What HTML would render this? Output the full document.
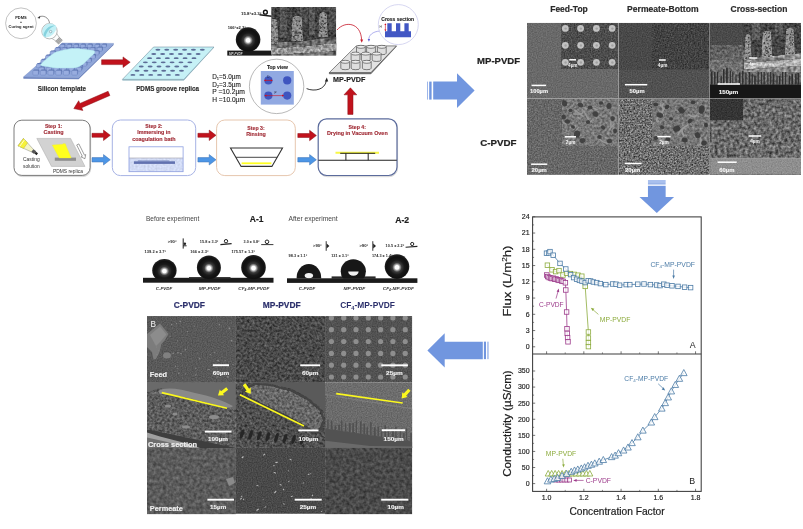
<!DOCTYPE html>
<html><head><meta charset="utf-8"><title>Graphical abstract</title>
<style>
html,body{margin:0;padding:0;background:#fff;}
body{width:803px;height:529px;overflow:hidden;font-family:"Liberation Sans",sans-serif;}
svg{display:block;}
svg text{font-family:"Liberation Sans",sans-serif;}
</style></head><body>
<svg width="803" height="529" viewBox="0 0 803 529">
<defs>
  <filter id="soft" filterUnits="userSpaceOnUse" x="-20" y="-20" width="860" height="580" color-interpolation-filters="sRGB">
    <feGaussianBlur stdDeviation="0.6"/>
  </filter>
  <filter id="grainL" x="0" y="0" width="100%" height="100%" color-interpolation-filters="sRGB">
    <feTurbulence type="fractalNoise" baseFrequency="0.5" numOctaves="2" seed="2" result="n"/>
    <feColorMatrix in="n" type="matrix" values="1 0 0 0 0  1 0 0 0 0  1 0 0 0 0  0 0 0 0 1" result="g"/>
    <feComposite in="SourceGraphic" in2="g" operator="arithmetic" k1="0" k2="1" k3="0.15" k4="-0.075" result="b"/>
    <feComposite in="b" in2="SourceGraphic" operator="in"/>
  </filter>
  <filter id="grainF2" x="0" y="0" width="100%" height="100%" color-interpolation-filters="sRGB">
    <feTurbulence type="fractalNoise" baseFrequency="0.8" numOctaves="1" seed="4" result="n"/>
    <feColorMatrix in="n" type="matrix" values="1 0 0 0 0  1 0 0 0 0  1 0 0 0 0  0 0 0 0 1" result="g"/>
    <feComposite in="SourceGraphic" in2="g" operator="arithmetic" k1="0" k2="1" k3="0.22" k4="-0.11" result="b"/>
    <feComposite in="b" in2="SourceGraphic" operator="in"/>
  </filter>
  <filter id="grainF" x="0" y="0" width="100%" height="100%" color-interpolation-filters="sRGB">
    <feTurbulence type="fractalNoise" baseFrequency="0.7" numOctaves="2" seed="3" result="n"/>
    <feColorMatrix in="n" type="matrix" values="1 0 0 0 0  1 0 0 0 0  1 0 0 0 0  0 0 0 0 1" result="g"/>
    <feComposite in="SourceGraphic" in2="g" operator="arithmetic" k1="0" k2="1" k3="0.45" k4="-0.225" result="b"/>
    <feComposite in="b" in2="SourceGraphic" operator="in"/>
  </filter>
  <filter id="grainH" x="0" y="0" width="100%" height="100%" color-interpolation-filters="sRGB">
    <feTurbulence type="fractalNoise" baseFrequency="0.62" numOctaves="2" seed="5" result="n"/>
    <feColorMatrix in="n" type="matrix" values="1 0 0 0 0  1 0 0 0 0  1 0 0 0 0  0 0 0 0 1" result="g"/>
    <feComposite in="SourceGraphic" in2="g" operator="arithmetic" k1="0" k2="1" k3="0.8" k4="-0.4" result="b"/>
    <feComposite in="b" in2="SourceGraphic" operator="in"/>
  </filter>
  <filter id="grainM" x="0" y="0" width="100%" height="100%" color-interpolation-filters="sRGB">
    <feTurbulence type="fractalNoise" baseFrequency="0.4" numOctaves="2" seed="7" result="n"/>
    <feColorMatrix in="n" type="matrix" values="1 0 0 0 0  1 0 0 0 0  1 0 0 0 0  0 0 0 0 1" result="g0"/><feGaussianBlur in="g0" stdDeviation="0.6" result="g"/>
    <feComposite in="SourceGraphic" in2="g" operator="arithmetic" k1="0" k2="1" k3="0.45" k4="-0.225" result="b"/>
    <feComposite in="b" in2="SourceGraphic" operator="in"/>
  </filter>
  <filter id="grainM2" x="0" y="0" width="100%" height="100%" color-interpolation-filters="sRGB">
    <feTurbulence type="fractalNoise" baseFrequency="0.33" numOctaves="2" seed="9" result="n"/>
    <feColorMatrix in="n" type="matrix" values="1 0 0 0 0  1 0 0 0 0  1 0 0 0 0  0 0 0 0 1" result="g0"/><feGaussianBlur in="g0" stdDeviation="0.6" result="g"/>
    <feComposite in="SourceGraphic" in2="g" operator="arithmetic" k1="0" k2="1" k3="0.7" k4="-0.35" result="b"/>
    <feComposite in="b" in2="SourceGraphic" operator="in"/>
  </filter>
  <filter id="grainC" x="0" y="0" width="100%" height="100%" color-interpolation-filters="sRGB">
    <feTurbulence type="fractalNoise" baseFrequency="0.24" numOctaves="2" seed="11" result="n"/>
    <feColorMatrix in="n" type="matrix" values="1 0 0 0 0  1 0 0 0 0  1 0 0 0 0  0 0 0 0 1" result="g0"/><feGaussianBlur in="g0" stdDeviation="0.7" result="g"/>
    <feComposite in="SourceGraphic" in2="g" operator="arithmetic" k1="0" k2="1" k3="0.75" k4="-0.375" result="b"/>
    <feComposite in="b" in2="SourceGraphic" operator="in"/>
  </filter>
  <filter id="grainX" x="0" y="0" width="100%" height="100%" color-interpolation-filters="sRGB">
    <feTurbulence type="fractalNoise" baseFrequency="0.14" numOctaves="2" seed="17" result="n"/>
    <feColorMatrix in="n" type="matrix" values="1 0 0 0 0  1 0 0 0 0  1 0 0 0 0  0 0 0 0 1" result="g0"/><feGaussianBlur in="g0" stdDeviation="0.8" result="g"/>
    <feComposite in="SourceGraphic" in2="g" operator="arithmetic" k1="0" k2="1" k3="0.9" k4="-0.45" result="b"/>
    <feComposite in="b" in2="SourceGraphic" operator="in"/>
  </filter>
    <filter id="blur06" x="-20%" y="-20%" width="140%" height="140%" color-interpolation-filters="sRGB"><feGaussianBlur stdDeviation="0.7"/></filter>
  <filter id="blur1" x="-20%" y="-20%" width="140%" height="140%" color-interpolation-filters="sRGB"><feGaussianBlur stdDeviation="1.1"/></filter>
  <filter id="grainF3" x="0" y="0" width="100%" height="100%" color-interpolation-filters="sRGB">
    <feTurbulence type="fractalNoise" baseFrequency="0.7" numOctaves="2" seed="13" result="n"/>
    <feColorMatrix in="n" type="matrix" values="1 0 0 0 0  1 0 0 0 0  1 0 0 0 0  0 0 0 0 1" result="g"/>
    <feComposite in="SourceGraphic" in2="g" operator="arithmetic" k1="0" k2="1" k3="0.33" k4="-0.165" result="b"/>
    <feComposite in="b" in2="SourceGraphic" operator="in"/>
  </filter>
  <filter id="grainM3" x="0" y="0" width="100%" height="100%" color-interpolation-filters="sRGB">
    <feTurbulence type="fractalNoise" baseFrequency="0.3" numOctaves="2" seed="21" result="n"/>
    <feColorMatrix in="n" type="matrix" values="1 0 0 0 0  1 0 0 0 0  1 0 0 0 0  0 0 0 0 1" result="g0"/><feGaussianBlur in="g0" stdDeviation="0.5" result="g"/>
    <feComposite in="SourceGraphic" in2="g" operator="arithmetic" k1="0" k2="1" k3="0.32" k4="-0.16" result="b"/>
    <feComposite in="b" in2="SourceGraphic" operator="in"/>
  </filter>
  <radialGradient id="drop" cx="50%" cy="53%" r="50%" fx="50%" fy="53%">
    <stop offset="0" stop-color="#ffffff"/>
    <stop offset="0.15" stop-color="#fdfdfd"/>
    <stop offset="0.25" stop-color="#a0a0a0"/>
    <stop offset="0.38" stop-color="#3c3c3c"/>
    <stop offset="0.6" stop-color="#191919"/>
    <stop offset="0.85" stop-color="#101010"/>
    <stop offset="1" stop-color="#1e1e1e"/>
  </radialGradient>
</defs>

<rect x="0" y="0" width="803" height="529" fill="#ffffff"/>
<g filter="url(#soft)">
<circle cx="21" cy="23.3" r="15.4" fill="#fff" stroke="#9a9a9a" stroke-width="0.6"/>
<text x="21.00" y="19.00" font-size="3.8" font-weight="bold" fill="#222" text-anchor="middle" textLength="11.60" lengthAdjust="spacingAndGlyphs" >PDMS</text>
<text x="21.00" y="23.20" font-size="3.4" font-weight="bold" fill="#222" text-anchor="middle" >+</text>
<text x="21.00" y="27.60" font-size="3.6" font-weight="bold" fill="#222" text-anchor="middle" textLength="25.00" lengthAdjust="spacingAndGlyphs" >Curing agent</text>
<path d="M49.5,23.2 C49,17.5 43,14.5 38.6,17.2" fill="none" stroke="#444" stroke-width="0.6"/>
<polygon points="37.30,18.10 40.30,16.00 39.90,18.60" fill="#333" />
<g transform="translate(49.5,31.2) rotate(-45)"><path d="M-3.6,6.2 L-2.4,11.6 L2.4,11.6 L3.6,6.2 Z" fill="#fdfdfd" stroke="#8a8a8a" stroke-width="0.5"/><rect x="-2.7" y="11.4" width="5.4" height="4.2" fill="#b4b4b4" stroke="#7a7a7a" stroke-width="0.4"/><path d="M-2.7,12.8 L2.7,12.8 M-2.7,14.2 L2.7,14.2" stroke="#8a8a8a" stroke-width="0.4"/></g>
<circle cx="49.5" cy="31.2" r="7.7" fill="#fbfefe" stroke="#8a8a8a" stroke-width="0.6"/>
<path d="M43.0,35.2 C41.2,30.5 43.2,25.8 47.6,24.0 C51.5,22.6 55.0,24.4 56.6,27.0 C56.0,31.5 52.5,36.8 46.0,37.6 C44.8,37.2 43.6,36.4 43.0,35.2 Z" fill="#c2f0f6"/>
<path d="M43.4,35.6 C44.5,29 49.5,25 55.6,25.6 C50,27.6 46.6,31.5 45.4,37.2 Z" fill="#86d2de"/>
<circle cx="50.6" cy="31.6" r="1.2" fill="#e8fbfd" stroke="#567" stroke-width="0.4"/>
<polygon points="23.40,77.00 78.60,77.60 113.60,43.40 113.60,45.00 78.60,79.30 23.40,78.70" fill="#6f86bf" />
<polygon points="62.40,43.10 113.60,43.40 78.60,77.60 23.40,77.00" fill="#8fa6d9" stroke="#7088c2" stroke-width="0.4" stroke-linejoin="round" />
<rect x="60.70" y="43.60" width="4.6" height="3.0" rx="0.9" fill="#5f77b3"/>
<rect x="60.00" y="44.50" width="4.6" height="3.0" rx="0.9" fill="#98addf" stroke="#667fbc" stroke-width="0.4"/>
<rect x="67.60" y="43.60" width="4.6" height="3.0" rx="0.9" fill="#5f77b3"/>
<rect x="66.90" y="44.50" width="4.6" height="3.0" rx="0.9" fill="#98addf" stroke="#667fbc" stroke-width="0.4"/>
<rect x="74.40" y="43.60" width="4.6" height="3.0" rx="0.9" fill="#5f77b3"/>
<rect x="73.70" y="44.50" width="4.6" height="3.0" rx="0.9" fill="#98addf" stroke="#667fbc" stroke-width="0.4"/>
<rect x="81.20" y="43.60" width="4.6" height="3.0" rx="0.9" fill="#5f77b3"/>
<rect x="80.50" y="44.50" width="4.6" height="3.0" rx="0.9" fill="#98addf" stroke="#667fbc" stroke-width="0.4"/>
<rect x="88.10" y="43.60" width="4.6" height="3.0" rx="0.9" fill="#5f77b3"/>
<rect x="87.40" y="44.50" width="4.6" height="3.0" rx="0.9" fill="#98addf" stroke="#667fbc" stroke-width="0.4"/>
<rect x="95.60" y="43.60" width="4.6" height="3.0" rx="0.9" fill="#5f77b3"/>
<rect x="94.90" y="44.50" width="4.6" height="3.0" rx="0.9" fill="#98addf" stroke="#667fbc" stroke-width="0.4"/>
<rect x="102.40" y="43.60" width="4.6" height="3.0" rx="0.9" fill="#5f77b3"/>
<rect x="101.70" y="44.50" width="4.6" height="3.0" rx="0.9" fill="#98addf" stroke="#667fbc" stroke-width="0.4"/>
<rect x="55.80" y="46.90" width="4.8" height="3.2" rx="0.9" fill="#5f77b3"/>
<rect x="55.10" y="47.80" width="4.8" height="3.2" rx="0.9" fill="#98addf" stroke="#667fbc" stroke-width="0.4"/>
<rect x="62.70" y="46.90" width="4.8" height="3.2" rx="0.9" fill="#5f77b3"/>
<rect x="62.00" y="47.80" width="4.8" height="3.2" rx="0.9" fill="#98addf" stroke="#667fbc" stroke-width="0.4"/>
<rect x="69.50" y="46.90" width="4.8" height="3.2" rx="0.9" fill="#5f77b3"/>
<rect x="68.80" y="47.80" width="4.8" height="3.2" rx="0.9" fill="#98addf" stroke="#667fbc" stroke-width="0.4"/>
<rect x="76.30" y="46.90" width="4.8" height="3.2" rx="0.9" fill="#5f77b3"/>
<rect x="75.60" y="47.80" width="4.8" height="3.2" rx="0.9" fill="#98addf" stroke="#667fbc" stroke-width="0.4"/>
<rect x="83.20" y="46.90" width="4.8" height="3.2" rx="0.9" fill="#5f77b3"/>
<rect x="82.50" y="47.80" width="4.8" height="3.2" rx="0.9" fill="#98addf" stroke="#667fbc" stroke-width="0.4"/>
<rect x="90.70" y="46.90" width="4.8" height="3.2" rx="0.9" fill="#5f77b3"/>
<rect x="90.00" y="47.80" width="4.8" height="3.2" rx="0.9" fill="#98addf" stroke="#667fbc" stroke-width="0.4"/>
<rect x="97.70" y="46.90" width="4.8" height="3.2" rx="0.9" fill="#5f77b3"/>
<rect x="97.00" y="47.80" width="4.8" height="3.2" rx="0.9" fill="#98addf" stroke="#667fbc" stroke-width="0.4"/>
<rect x="97.90" y="46.60" width="5.0" height="3.8" rx="0.9" fill="#5f77b3"/>
<rect x="97.20" y="47.50" width="5.0" height="3.8" rx="0.9" fill="#98addf" stroke="#667fbc" stroke-width="0.4"/>
<rect x="94.60" y="50.20" width="5.0" height="3.8" rx="0.9" fill="#5f77b3"/>
<rect x="93.90" y="51.10" width="5.0" height="3.8" rx="0.9" fill="#98addf" stroke="#667fbc" stroke-width="0.4"/>
<rect x="91.00" y="54.10" width="5.0" height="3.8" rx="0.9" fill="#5f77b3"/>
<rect x="90.30" y="55.00" width="5.0" height="3.8" rx="0.9" fill="#98addf" stroke="#667fbc" stroke-width="0.4"/>
<rect x="86.80" y="57.80" width="5.0" height="3.8" rx="0.9" fill="#5f77b3"/>
<rect x="86.10" y="58.70" width="5.0" height="3.8" rx="0.9" fill="#98addf" stroke="#667fbc" stroke-width="0.4"/>
<rect x="82.40" y="61.40" width="5.0" height="3.8" rx="0.9" fill="#5f77b3"/>
<rect x="81.70" y="62.30" width="5.0" height="3.8" rx="0.9" fill="#98addf" stroke="#667fbc" stroke-width="0.4"/>
<rect x="78.10" y="65.00" width="5.0" height="3.8" rx="0.9" fill="#5f77b3"/>
<rect x="77.40" y="65.90" width="5.0" height="3.8" rx="0.9" fill="#98addf" stroke="#667fbc" stroke-width="0.4"/>
<rect x="50.80" y="50.40" width="5.0" height="3.8" rx="0.9" fill="#5f77b3"/>
<rect x="50.10" y="51.30" width="5.0" height="3.8" rx="0.9" fill="#98addf" stroke="#667fbc" stroke-width="0.4"/>
<rect x="46.20" y="54.60" width="5.0" height="3.8" rx="0.9" fill="#5f77b3"/>
<rect x="45.50" y="55.50" width="5.0" height="3.8" rx="0.9" fill="#98addf" stroke="#667fbc" stroke-width="0.4"/>
<rect x="41.60" y="58.80" width="5.0" height="3.8" rx="0.9" fill="#5f77b3"/>
<rect x="40.90" y="59.70" width="5.0" height="3.8" rx="0.9" fill="#98addf" stroke="#667fbc" stroke-width="0.4"/>
<rect x="37.10" y="63.00" width="5.0" height="3.8" rx="0.9" fill="#5f77b3"/>
<rect x="36.40" y="63.90" width="5.0" height="3.8" rx="0.9" fill="#98addf" stroke="#667fbc" stroke-width="0.4"/>
<rect x="39.50" y="66.40" width="5.2" height="3.8" rx="0.9" fill="#5f77b3"/>
<rect x="38.80" y="67.30" width="5.2" height="3.8" rx="0.9" fill="#98addf" stroke="#667fbc" stroke-width="0.4"/>
<rect x="47.00" y="66.40" width="5.2" height="3.8" rx="0.9" fill="#5f77b3"/>
<rect x="46.30" y="67.30" width="5.2" height="3.8" rx="0.9" fill="#98addf" stroke="#667fbc" stroke-width="0.4"/>
<rect x="54.50" y="66.40" width="5.2" height="3.8" rx="0.9" fill="#5f77b3"/>
<rect x="53.80" y="67.30" width="5.2" height="3.8" rx="0.9" fill="#98addf" stroke="#667fbc" stroke-width="0.4"/>
<rect x="62.00" y="66.40" width="5.2" height="3.8" rx="0.9" fill="#5f77b3"/>
<rect x="61.30" y="67.30" width="5.2" height="3.8" rx="0.9" fill="#98addf" stroke="#667fbc" stroke-width="0.4"/>
<rect x="69.50" y="66.40" width="5.2" height="3.8" rx="0.9" fill="#5f77b3"/>
<rect x="68.80" y="67.30" width="5.2" height="3.8" rx="0.9" fill="#98addf" stroke="#667fbc" stroke-width="0.4"/>
<rect x="77.00" y="66.40" width="5.2" height="3.8" rx="0.9" fill="#5f77b3"/>
<rect x="76.30" y="67.30" width="5.2" height="3.8" rx="0.9" fill="#98addf" stroke="#667fbc" stroke-width="0.4"/>
<rect x="33.50" y="69.60" width="5.6" height="4.6" rx="0.9" fill="#5f77b3"/>
<rect x="32.80" y="70.50" width="5.6" height="4.6" rx="0.9" fill="#98addf" stroke="#667fbc" stroke-width="0.4"/>
<rect x="41.00" y="69.60" width="5.6" height="4.6" rx="0.9" fill="#5f77b3"/>
<rect x="40.30" y="70.50" width="5.6" height="4.6" rx="0.9" fill="#98addf" stroke="#667fbc" stroke-width="0.4"/>
<rect x="48.70" y="69.60" width="5.6" height="4.6" rx="0.9" fill="#5f77b3"/>
<rect x="48.00" y="70.50" width="5.6" height="4.6" rx="0.9" fill="#98addf" stroke="#667fbc" stroke-width="0.4"/>
<rect x="56.40" y="69.60" width="5.6" height="4.6" rx="0.9" fill="#5f77b3"/>
<rect x="55.70" y="70.50" width="5.6" height="4.6" rx="0.9" fill="#98addf" stroke="#667fbc" stroke-width="0.4"/>
<rect x="64.10" y="69.60" width="5.6" height="4.6" rx="0.9" fill="#5f77b3"/>
<rect x="63.40" y="70.50" width="5.6" height="4.6" rx="0.9" fill="#98addf" stroke="#667fbc" stroke-width="0.4"/>
<rect x="72.50" y="69.60" width="5.6" height="4.6" rx="0.9" fill="#5f77b3"/>
<rect x="71.80" y="70.50" width="5.6" height="4.6" rx="0.9" fill="#98addf" stroke="#667fbc" stroke-width="0.4"/>
<path d="M40.6,64.4 C44,61 48,57.5 52,54.6 C54,53 55.6,52 57.5,51.6 C62,50.4 67,49.4 72,48.6 C78,48.4 84,49.2 88,49.8 C91,50.2 94,50.4 94.8,51.6 C95.2,53.2 93,54.8 91,56.6 C89,58.6 87,60.6 85,62.4 C83,64.4 80,66.4 77.5,67.2 C73,68.4 68,67.8 62.5,68 C57,68.4 51,67.4 46,66.4 C43,66 40,65.6 40.6,64.4 Z" fill="#c4f2f7" stroke="#a8dfe8" stroke-width="0.4"/>
<text x="37.80" y="91.00" font-size="6.4" font-weight="bold" fill="#2a2a2a" text-anchor="start" textLength="48.20" lengthAdjust="spacingAndGlyphs" stroke="#2a2a2a" stroke-width="0.14" >Silicon template</text>
<polygon points="101.60,59.80 123.00,59.80 123.00,56.90 130.20,62.20 123.00,67.50 123.00,64.60 101.60,64.60" fill="#c1121c" stroke="#8a1016" stroke-width="0.5" stroke-linejoin="miter"/>
<polygon points="122.40,79.40 183.80,79.40 214.00,47.00 213.50,48.00 183.80,80.40 122.40,80.40" fill="#7fa9b8" />
<polygon points="153.60,47.00 214.00,47.00 183.80,79.40 122.40,79.40" fill="#c6f1f6" stroke="#5f7f90" stroke-width="0.5" stroke-linejoin="round" />
<ellipse cx="157.90" cy="49.80" rx="2.5" ry="0.95" fill="#5c6c96"/>
<ellipse cx="166.78" cy="49.80" rx="2.5" ry="0.95" fill="#5c6c96"/>
<ellipse cx="175.66" cy="49.80" rx="2.5" ry="0.95" fill="#5c6c96"/>
<ellipse cx="184.54" cy="49.80" rx="2.5" ry="0.95" fill="#5c6c96"/>
<ellipse cx="193.42" cy="49.80" rx="2.5" ry="0.95" fill="#5c6c96"/>
<ellipse cx="202.30" cy="49.80" rx="2.5" ry="0.95" fill="#5c6c96"/>
<ellipse cx="153.73" cy="53.98" rx="2.5" ry="0.95" fill="#5c6c96"/>
<ellipse cx="162.61" cy="53.98" rx="2.5" ry="0.95" fill="#5c6c96"/>
<ellipse cx="171.49" cy="53.98" rx="2.5" ry="0.95" fill="#5c6c96"/>
<ellipse cx="180.37" cy="53.98" rx="2.5" ry="0.95" fill="#5c6c96"/>
<ellipse cx="189.25" cy="53.98" rx="2.5" ry="0.95" fill="#5c6c96"/>
<ellipse cx="198.13" cy="53.98" rx="2.5" ry="0.95" fill="#5c6c96"/>
<ellipse cx="149.57" cy="58.17" rx="2.5" ry="0.95" fill="#5c6c96"/>
<ellipse cx="158.45" cy="58.17" rx="2.5" ry="0.95" fill="#5c6c96"/>
<ellipse cx="167.33" cy="58.17" rx="2.5" ry="0.95" fill="#5c6c96"/>
<ellipse cx="176.21" cy="58.17" rx="2.5" ry="0.95" fill="#5c6c96"/>
<ellipse cx="185.09" cy="58.17" rx="2.5" ry="0.95" fill="#5c6c96"/>
<ellipse cx="193.97" cy="58.17" rx="2.5" ry="0.95" fill="#5c6c96"/>
<ellipse cx="145.40" cy="62.35" rx="2.5" ry="0.95" fill="#5c6c96"/>
<ellipse cx="154.28" cy="62.35" rx="2.5" ry="0.95" fill="#5c6c96"/>
<ellipse cx="163.16" cy="62.35" rx="2.5" ry="0.95" fill="#5c6c96"/>
<ellipse cx="172.04" cy="62.35" rx="2.5" ry="0.95" fill="#5c6c96"/>
<ellipse cx="180.92" cy="62.35" rx="2.5" ry="0.95" fill="#5c6c96"/>
<ellipse cx="189.80" cy="62.35" rx="2.5" ry="0.95" fill="#5c6c96"/>
<ellipse cx="141.23" cy="66.53" rx="2.5" ry="0.95" fill="#5c6c96"/>
<ellipse cx="150.11" cy="66.53" rx="2.5" ry="0.95" fill="#5c6c96"/>
<ellipse cx="158.99" cy="66.53" rx="2.5" ry="0.95" fill="#5c6c96"/>
<ellipse cx="167.87" cy="66.53" rx="2.5" ry="0.95" fill="#5c6c96"/>
<ellipse cx="176.75" cy="66.53" rx="2.5" ry="0.95" fill="#5c6c96"/>
<ellipse cx="185.63" cy="66.53" rx="2.5" ry="0.95" fill="#5c6c96"/>
<ellipse cx="137.07" cy="70.72" rx="2.5" ry="0.95" fill="#5c6c96"/>
<ellipse cx="145.95" cy="70.72" rx="2.5" ry="0.95" fill="#5c6c96"/>
<ellipse cx="154.83" cy="70.72" rx="2.5" ry="0.95" fill="#5c6c96"/>
<ellipse cx="163.71" cy="70.72" rx="2.5" ry="0.95" fill="#5c6c96"/>
<ellipse cx="172.59" cy="70.72" rx="2.5" ry="0.95" fill="#5c6c96"/>
<ellipse cx="181.47" cy="70.72" rx="2.5" ry="0.95" fill="#5c6c96"/>
<ellipse cx="132.90" cy="74.90" rx="2.5" ry="0.95" fill="#5c6c96"/>
<ellipse cx="141.78" cy="74.90" rx="2.5" ry="0.95" fill="#5c6c96"/>
<ellipse cx="150.66" cy="74.90" rx="2.5" ry="0.95" fill="#5c6c96"/>
<ellipse cx="159.54" cy="74.90" rx="2.5" ry="0.95" fill="#5c6c96"/>
<ellipse cx="168.42" cy="74.90" rx="2.5" ry="0.95" fill="#5c6c96"/>
<ellipse cx="177.30" cy="74.90" rx="2.5" ry="0.95" fill="#5c6c96"/>
<text x="136.20" y="91.00" font-size="6.4" font-weight="bold" fill="#2a2a2a" text-anchor="start" textLength="62.80" lengthAdjust="spacingAndGlyphs" stroke="#2a2a2a" stroke-width="0.14" >PDMS groove replica</text>
<polygon points="108.09,91.29 79.87,103.48 78.68,100.72 73.80,108.60 82.88,110.45 81.69,107.70 109.91,95.51" fill="#c1121c" stroke="#8a1016" stroke-width="0.5" stroke-linejoin="round" />
<rect x="14.6" y="121.4" width="76.1" height="55.2" rx="7.8" fill="#e4e4e4" stroke="#d8d8d8" stroke-width="1.0"/>
<rect x="14.0" y="120.2" width="76.1" height="55.2" rx="7.8" fill="#fff" stroke="#5a5a5a" stroke-width="0.8"/>
<text x="53.60" y="127.60" font-size="5.6" font-weight="bold" fill="#9e2630" text-anchor="middle" textLength="17.40" lengthAdjust="spacingAndGlyphs" stroke="#9e2630" stroke-width="0.12" >Step 1:</text>
<text x="53.60" y="133.80" font-size="5.6" font-weight="bold" fill="#9e2630" text-anchor="middle" textLength="20.00" lengthAdjust="spacingAndGlyphs" stroke="#9e2630" stroke-width="0.12" >Casting</text>
<polygon points="36.80,138.40 70.60,138.40 85.00,166.40 51.50,166.40" fill="#d2d2d2" stroke="#a8a8a8" stroke-width="0.5" stroke-linejoin="round" />
<rect x="54.8" y="157.6" width="21.2" height="3.2" fill="#8e8e8e"/>
<path d="M52.1,145 L62.5,144.2 L63.4,143.6 L65.4,143.8 L66.8,147.4 L71.3,158.0 L59.2,158.0 Z" fill="#ffff1e" stroke="#e6e640" stroke-width="0.3"/>
<g transform="rotate(-26.5 81.3 151.5)"><path d="M80.1,143.6 L82.5,143.6 L82.5,156.2 L83.9,156.2 L81.3,159.6 L78.7,156.2 L80.1,156.2 Z" fill="#fff" stroke="#555" stroke-width="0.5"/></g>
<g transform="translate(2.2,0.3) rotate(36 27 148)"><path d="M16.5,143.4 L16.5,152.6 L31,149.6 L31,146.4 Z" fill="#f4f4c8" stroke="#777" stroke-width="0.4"/><path d="M16.5,143.4 L16.5,152.6 L22.5,151.4 L22.5,144.6 Z" fill="#f6f23a" stroke="#b8b430" stroke-width="0.4"/><path d="M18.2,143.8 L18.2,152.2" stroke="#fff" stroke-width="0.7"/><rect x="31" y="146.2" width="3.4" height="3.6" fill="#555"/><rect x="34.4" y="146.8" width="2.6" height="2.4" fill="#222"/></g>
<text x="31.40" y="161.40" font-size="5.0" font-weight="normal" fill="#333" text-anchor="middle" textLength="16.80" lengthAdjust="spacingAndGlyphs" >Casting</text>
<text x="31.40" y="167.60" font-size="5.0" font-weight="normal" fill="#333" text-anchor="middle" textLength="16.60" lengthAdjust="spacingAndGlyphs" >solution</text>
<text x="53.00" y="173.40" font-size="5.0" font-weight="normal" fill="#333" text-anchor="start" textLength="29.90" lengthAdjust="spacingAndGlyphs" >PDMS replica</text>
<polygon points="92.00,133.30 103.50,133.30 103.50,130.10 110.30,135.30 103.50,140.50 103.50,137.30 92.00,137.30" fill="#c1121c" stroke="#8a1016" stroke-width="0.5" stroke-linejoin="miter"/>
<polygon points="92.00,157.60 103.50,157.60 103.50,154.60 110.30,159.80 103.50,165.00 103.50,162.00 92.00,162.00" fill="#4d96e6" stroke="#3a6fb0" stroke-width="0.5" stroke-linejoin="miter"/>
<rect x="112.3" y="120.0" width="83.39999999999999" height="55.599999999999994" rx="8.2" fill="#fff" stroke="#a6b2e4" stroke-width="1.0"/>
<text x="153.90" y="127.60" font-size="5.5" font-weight="bold" fill="#9e2630" text-anchor="middle" textLength="17.40" lengthAdjust="spacingAndGlyphs" stroke="#9e2630" stroke-width="0.12" >Step 2:</text>
<text x="153.90" y="134.10" font-size="5.5" font-weight="bold" fill="#9e2630" text-anchor="middle" textLength="33.50" lengthAdjust="spacingAndGlyphs" stroke="#9e2630" stroke-width="0.12" >Immersing in</text>
<text x="153.90" y="140.50" font-size="5.5" font-weight="bold" fill="#9e2630" text-anchor="middle" textLength="43.30" lengthAdjust="spacingAndGlyphs" stroke="#9e2630" stroke-width="0.12" >coagulation bath</text>
<rect x="129.0" y="146.8" width="54.1" height="24.9" fill="#fff"/>
<rect x="129.0" y="158.0" width="54.1" height="13.7" fill="#d3dcf5" filter="url(#grainL)"/>
<line x1="129" y1="158" x2="183.1" y2="158" stroke="#a9a9b4" stroke-width="0.7"/>
<rect x="129.0" y="146.8" width="54.1" height="24.9" fill="none" stroke="#8d9fe2" stroke-width="0.8"/>
<rect x="133.9" y="161.3" width="41.1" height="2.6" fill="#6272b0"/>
<rect x="137.9" y="160.5" width="31.5" height="1.2" fill="#7585bd"/>
<polygon points="197.90,133.30 209.20,133.30 209.20,130.10 216.00,135.30 209.20,140.50 209.20,137.30 197.90,137.30" fill="#c1121c" stroke="#8a1016" stroke-width="0.5" stroke-linejoin="miter"/>
<polygon points="197.90,157.60 209.20,157.60 209.20,154.60 216.00,159.80 209.20,165.00 209.20,162.00 197.90,162.00" fill="#4d96e6" stroke="#3a6fb0" stroke-width="0.5" stroke-linejoin="miter"/>
<rect x="216.6" y="120.0" width="78.70000000000002" height="55.599999999999994" rx="8.2" fill="#fff" stroke="#e6c6ae" stroke-width="1.0"/>
<text x="256.00" y="129.70" font-size="5.5" font-weight="bold" fill="#9e2630" text-anchor="middle" textLength="17.40" lengthAdjust="spacingAndGlyphs" stroke="#9e2630" stroke-width="0.12" >Step 3:</text>
<text x="256.00" y="136.10" font-size="5.5" font-weight="bold" fill="#9e2630" text-anchor="middle" textLength="19.60" lengthAdjust="spacingAndGlyphs" stroke="#9e2630" stroke-width="0.12" >Rinsing</text>
<path d="M230.5,148 L282.5,148 L271.9,166.4 L241.1,166.4 Z" fill="#fff" stroke="#333" stroke-width="1.1" stroke-linejoin="miter"/>
<line x1="236.0" y1="157.3" x2="277.2" y2="157.3" stroke="#333" stroke-width="0.9"/>
<line x1="241.6" y1="163.3" x2="271.4" y2="163.3" stroke="#ffff20" stroke-width="1.8"/>
<polygon points="297.80,133.50 309.60,133.50 309.60,130.30 316.40,135.50 309.60,140.70 309.60,137.50 297.80,137.50" fill="#c1121c" stroke="#8a1016" stroke-width="0.5" stroke-linejoin="miter"/>
<polygon points="297.80,157.60 309.60,157.60 309.60,154.60 316.40,159.80 309.60,165.00 309.60,162.00 297.80,162.00" fill="#4d96e6" stroke="#3a6fb0" stroke-width="0.5" stroke-linejoin="miter"/>
<rect x="318.8" y="120.0" width="78.80000000000001" height="56.7" rx="8.5" fill="#e4e4e4" stroke="#d8d8d8" stroke-width="1.0"/>
<rect x="318.2" y="118.8" width="78.80000000000001" height="56.7" rx="8.5" fill="#fff" stroke="#5b6b9c" stroke-width="1.2"/>
<text x="357.30" y="128.90" font-size="5.4" font-weight="bold" fill="#9e2630" text-anchor="middle" textLength="17.40" lengthAdjust="spacingAndGlyphs" stroke="#9e2630" stroke-width="0.12" >Step 4:</text>
<text x="357.30" y="135.40" font-size="5.4" font-weight="bold" fill="#9e2630" text-anchor="middle" textLength="60.80" lengthAdjust="spacingAndGlyphs" stroke="#9e2630" stroke-width="0.12" >Drying in Vacuum Oven</text>
<line x1="335.5" y1="152.7" x2="379.0" y2="152.7" stroke="#f7f746" stroke-width="2.0"/>
<line x1="340.2" y1="153.3" x2="375.2" y2="153.3" stroke="#222" stroke-width="1.0"/>
<line x1="345.9" y1="153.3" x2="345.9" y2="160.3" stroke="#222" stroke-width="1.0"/>
<line x1="368.2" y1="153.3" x2="368.2" y2="160.3" stroke="#222" stroke-width="1.0"/>
<line x1="318.4" y1="160.3" x2="396.8" y2="160.3" stroke="#222" stroke-width="1.1"/>
<polygon points="347.80,114.40 347.80,94.80 344.00,94.80 350.40,87.80 356.80,94.80 353.00,94.80 353.00,114.40" fill="#c1121c" stroke="#8a1016" stroke-width="0.5"/>
<text x="241.00" y="14.60" font-size="3.4" font-weight="bold" fill="#222" text-anchor="start" textLength="20.50" lengthAdjust="spacingAndGlyphs" >15.8°±3.3°</text>
<polygon points="259.5,14.0 271.6,15.4 271.6,17.0 259.5,15.6" fill="#1c1c1c"/>
<circle cx="265.4" cy="12.2" r="1.9" fill="#fff" stroke="#111" stroke-width="1.4"/>
<text x="227.80" y="28.60" font-size="3.4" font-weight="bold" fill="#222" text-anchor="start" textLength="18.00" lengthAdjust="spacingAndGlyphs" >166°±2.3°</text>
<rect x="227.3" y="50.6" width="44.5" height="5.0" fill="#1a1a1a"/>
<circle cx="248.1" cy="39.6" r="12.3" fill="url(#drop)"/>
<text x="229.00" y="54.60" font-size="3.2" font-weight="bold" fill="#ddd" text-anchor="start" textLength="13.50" lengthAdjust="spacingAndGlyphs" font-style="italic" >MP-PVDF</text>
<clipPath id="semA"><rect x="271.2" y="6.9" width="65.10000000000002" height="48.7"/></clipPath>
<g clip-path="url(#semA)">
<rect x="271.2" y="6.9" width="65.10000000000002" height="48.7" fill="#3f3f3f" filter="url(#grainM)"/>
<rect x="280" y="7" width="7" height="31" fill="#545454" filter="url(#grainM)"/>
<rect x="300" y="7" width="8" height="17" fill="#4c4c4c" filter="url(#grainM)"/>
<rect x="309" y="7" width="6" height="29" fill="#565656" filter="url(#grainM)"/>
<rect x="329" y="7" width="7" height="23" fill="#505050" filter="url(#grainM)"/>
<path d="M271,44 C280,40 290,43 300,41.5 C310,40 322,38 336.5,37 L336.5,56 L271,56 Z" fill="#6c6c6c" filter="url(#grainC)"/>
<path d="M271,48.5 C285,46.5 300,47.5 315,45 C325,44 330,43.5 336.5,43 L336.5,51 C320,52 300,54 271,54.5 Z" fill="#999999" filter="url(#grainM2)"/>
<path d="M268.7,20.2 Q273.05,17.4 277.40000000000003,20.2 L278.6,44.0 L267.5,44.0 Z" fill="#8e8e8e" filter="url(#grainM)"/>
<circle cx="274.1" cy="37.6" r="0.73" fill="#3c3c3c"/>
<circle cx="276.9" cy="37.5" r="0.77" fill="#3c3c3c"/>
<circle cx="269.0" cy="31.2" r="0.78" fill="#3c3c3c"/>
<circle cx="274.3" cy="41.2" r="0.49" fill="#3c3c3c"/>
<circle cx="272.8" cy="26.2" r="0.64" fill="#3c3c3c"/>
<circle cx="273.7" cy="20.8" r="0.53" fill="#3c3c3c"/>
<circle cx="271.1" cy="41.6" r="0.72" fill="#3c3c3c"/>
<circle cx="270.1" cy="38.8" r="0.50" fill="#3c3c3c"/>
<circle cx="274.1" cy="23.4" r="0.45" fill="#3c3c3c"/>
<circle cx="276.3" cy="25.3" r="0.53" fill="#3c3c3c"/>
<circle cx="277.2" cy="40.6" r="0.55" fill="#3c3c3c"/>
<circle cx="277.1" cy="32.9" r="0.69" fill="#3c3c3c"/>
<circle cx="270.5" cy="42.1" r="0.69" fill="#3c3c3c"/>
<circle cx="277.1" cy="41.1" r="0.55" fill="#3c3c3c"/>
<circle cx="271.8" cy="24.3" r="0.50" fill="#3c3c3c"/>
<circle cx="269.3" cy="27.4" r="0.66" fill="#3c3c3c"/>
<circle cx="268.7" cy="36.1" r="0.57" fill="#3c3c3c"/>
<circle cx="271.4" cy="39.3" r="0.62" fill="#3c3c3c"/>
<circle cx="271.4" cy="31.6" r="0.70" fill="#3c3c3c"/>
<circle cx="269.2" cy="42.9" r="0.46" fill="#3c3c3c"/>
<circle cx="275.2" cy="39.9" r="0.46" fill="#3c3c3c"/>
<circle cx="275.6" cy="28.9" r="0.65" fill="#3c3c3c"/>
<circle cx="268.8" cy="21.6" r="0.51" fill="#3c3c3c"/>
<circle cx="277.0" cy="25.0" r="0.71" fill="#3c3c3c"/>
<circle cx="276.8" cy="42.2" r="0.57" fill="#3c3c3c"/>
<circle cx="271.8" cy="32.6" r="0.72" fill="#3c3c3c"/>
<circle cx="269.6" cy="37.7" r="0.73" fill="#3c3c3c"/>
<circle cx="276.2" cy="21.3" r="0.78" fill="#3c3c3c"/>
<circle cx="269.5" cy="28.3" r="0.66" fill="#3c3c3c"/>
<circle cx="276.7" cy="28.3" r="0.77" fill="#3c3c3c"/>
<circle cx="273.4" cy="27.7" r="0.56" fill="#3c3c3c"/>
<circle cx="270.2" cy="22.3" r="0.50" fill="#3c3c3c"/>
<circle cx="274.7" cy="43.4" r="0.51" fill="#3c3c3c"/>
<circle cx="269.1" cy="43.2" r="0.64" fill="#3c3c3c"/>
<circle cx="272.2" cy="26.0" r="0.66" fill="#3c3c3c"/>
<circle cx="275.9" cy="31.0" r="0.60" fill="#3c3c3c"/>
<circle cx="269.2" cy="41.6" r="0.46" fill="#3c3c3c"/>
<circle cx="273.0" cy="39.8" r="0.50" fill="#3c3c3c"/>
<circle cx="275.1" cy="42.3" r="0.67" fill="#3c3c3c"/>
<path d="M292.4,17.2 Q297.2,14.4 302.0,17.2 L303.2,41.0 L291.2,41.0 Z" fill="#8e8e8e" filter="url(#grainM)"/>
<circle cx="300.0" cy="20.0" r="0.60" fill="#3c3c3c"/>
<circle cx="293.8" cy="36.9" r="0.55" fill="#3c3c3c"/>
<circle cx="296.8" cy="40.5" r="0.75" fill="#3c3c3c"/>
<circle cx="301.8" cy="27.9" r="0.62" fill="#3c3c3c"/>
<circle cx="299.4" cy="28.5" r="0.55" fill="#3c3c3c"/>
<circle cx="296.3" cy="20.9" r="0.58" fill="#3c3c3c"/>
<circle cx="301.9" cy="39.6" r="0.67" fill="#3c3c3c"/>
<circle cx="297.2" cy="25.3" r="0.48" fill="#3c3c3c"/>
<circle cx="295.0" cy="35.5" r="0.75" fill="#3c3c3c"/>
<circle cx="295.9" cy="35.6" r="0.72" fill="#3c3c3c"/>
<circle cx="299.1" cy="32.8" r="0.72" fill="#3c3c3c"/>
<circle cx="295.9" cy="33.7" r="0.55" fill="#3c3c3c"/>
<circle cx="297.1" cy="35.2" r="0.69" fill="#3c3c3c"/>
<circle cx="295.2" cy="39.2" r="0.68" fill="#3c3c3c"/>
<circle cx="298.0" cy="17.8" r="0.64" fill="#3c3c3c"/>
<circle cx="294.8" cy="32.9" r="0.61" fill="#3c3c3c"/>
<circle cx="300.2" cy="32.4" r="0.73" fill="#3c3c3c"/>
<circle cx="295.7" cy="32.3" r="0.71" fill="#3c3c3c"/>
<circle cx="300.4" cy="25.6" r="0.75" fill="#3c3c3c"/>
<circle cx="300.8" cy="33.3" r="0.79" fill="#3c3c3c"/>
<circle cx="301.6" cy="29.4" r="0.64" fill="#3c3c3c"/>
<circle cx="294.0" cy="36.7" r="0.78" fill="#3c3c3c"/>
<circle cx="297.0" cy="33.4" r="0.70" fill="#3c3c3c"/>
<circle cx="299.4" cy="21.5" r="0.72" fill="#3c3c3c"/>
<circle cx="298.0" cy="32.8" r="0.60" fill="#3c3c3c"/>
<circle cx="298.4" cy="35.3" r="0.67" fill="#3c3c3c"/>
<circle cx="299.3" cy="18.1" r="0.51" fill="#3c3c3c"/>
<circle cx="296.6" cy="32.5" r="0.53" fill="#3c3c3c"/>
<circle cx="299.0" cy="32.0" r="0.46" fill="#3c3c3c"/>
<circle cx="296.9" cy="22.7" r="0.47" fill="#3c3c3c"/>
<circle cx="293.7" cy="24.8" r="0.51" fill="#3c3c3c"/>
<circle cx="294.3" cy="18.3" r="0.61" fill="#3c3c3c"/>
<circle cx="296.1" cy="31.6" r="0.66" fill="#3c3c3c"/>
<circle cx="294.7" cy="38.3" r="0.45" fill="#3c3c3c"/>
<circle cx="296.3" cy="23.9" r="0.59" fill="#3c3c3c"/>
<circle cx="293.5" cy="36.6" r="0.58" fill="#3c3c3c"/>
<circle cx="292.7" cy="31.6" r="0.48" fill="#3c3c3c"/>
<circle cx="297.6" cy="25.3" r="0.65" fill="#3c3c3c"/>
<circle cx="301.6" cy="36.3" r="0.60" fill="#3c3c3c"/>
<circle cx="300.2" cy="32.3" r="0.58" fill="#3c3c3c"/>
<circle cx="293.8" cy="31.2" r="0.65" fill="#3c3c3c"/>
<circle cx="301.6" cy="39.8" r="0.66" fill="#3c3c3c"/>
<path d="M319.4,13.5 Q323.1,10.700000000000001 326.8,13.5 L328.0,37.0 L318.2,37.0 Z" fill="#8e8e8e" filter="url(#grainM)"/>
<circle cx="322.0" cy="34.1" r="0.45" fill="#3c3c3c"/>
<circle cx="320.2" cy="26.6" r="0.67" fill="#3c3c3c"/>
<circle cx="320.4" cy="28.1" r="0.76" fill="#3c3c3c"/>
<circle cx="322.2" cy="23.6" r="0.53" fill="#3c3c3c"/>
<circle cx="321.6" cy="35.9" r="0.58" fill="#3c3c3c"/>
<circle cx="326.5" cy="34.5" r="0.66" fill="#3c3c3c"/>
<circle cx="321.3" cy="36.1" r="0.62" fill="#3c3c3c"/>
<circle cx="322.5" cy="21.0" r="0.79" fill="#3c3c3c"/>
<circle cx="323.0" cy="20.3" r="0.62" fill="#3c3c3c"/>
<circle cx="320.3" cy="27.9" r="0.61" fill="#3c3c3c"/>
<circle cx="321.6" cy="31.5" r="0.74" fill="#3c3c3c"/>
<circle cx="319.5" cy="25.9" r="0.55" fill="#3c3c3c"/>
<circle cx="326.3" cy="31.5" r="0.54" fill="#3c3c3c"/>
<circle cx="321.4" cy="17.3" r="0.80" fill="#3c3c3c"/>
<circle cx="321.6" cy="27.6" r="0.62" fill="#3c3c3c"/>
<circle cx="324.2" cy="27.5" r="0.71" fill="#3c3c3c"/>
<circle cx="320.3" cy="31.1" r="0.56" fill="#3c3c3c"/>
<circle cx="323.3" cy="21.4" r="0.55" fill="#3c3c3c"/>
<circle cx="323.3" cy="24.3" r="0.58" fill="#3c3c3c"/>
<circle cx="324.9" cy="27.2" r="0.46" fill="#3c3c3c"/>
<circle cx="321.3" cy="24.1" r="0.77" fill="#3c3c3c"/>
<circle cx="326.0" cy="26.2" r="0.46" fill="#3c3c3c"/>
<circle cx="325.2" cy="23.5" r="0.65" fill="#3c3c3c"/>
<circle cx="324.6" cy="28.2" r="0.62" fill="#3c3c3c"/>
<circle cx="326.1" cy="22.6" r="0.59" fill="#3c3c3c"/>
<circle cx="325.7" cy="18.3" r="0.55" fill="#3c3c3c"/>
<circle cx="325.5" cy="15.3" r="0.74" fill="#3c3c3c"/>
<circle cx="324.5" cy="23.6" r="0.55" fill="#3c3c3c"/>
<circle cx="325.2" cy="34.5" r="0.50" fill="#3c3c3c"/>
<circle cx="322.9" cy="26.3" r="0.62" fill="#3c3c3c"/>
<circle cx="321.8" cy="17.3" r="0.66" fill="#3c3c3c"/>
<circle cx="325.4" cy="15.4" r="0.53" fill="#3c3c3c"/>
<circle cx="325.5" cy="31.8" r="0.68" fill="#3c3c3c"/>
<circle cx="319.6" cy="30.2" r="0.79" fill="#3c3c3c"/>
</g>
<text x="212.2" y="79.2" font-size="6.6" fill="#1e1e1e" stroke="#1e1e1e" stroke-width="0.12" textLength="28.6" lengthAdjust="spacingAndGlyphs">D<tspan font-size="4.2" dy="1.2">1</tspan><tspan dy="-1.2">=5.0µm</tspan></text>
<text x="212.2" y="86.7" font-size="6.6" fill="#1e1e1e" stroke="#1e1e1e" stroke-width="0.12" textLength="28.6" lengthAdjust="spacingAndGlyphs">D<tspan font-size="4.2" dy="1.2">2</tspan><tspan dy="-1.2">=3.5µm</tspan></text>
<text x="212.2" y="94.3" font-size="6.6" fill="#1e1e1e" stroke="#1e1e1e" stroke-width="0.12" textLength="32.8" lengthAdjust="spacingAndGlyphs">P =10.2µm</text>
<text x="212.2" y="101.8" font-size="6.6" fill="#1e1e1e" stroke="#1e1e1e" stroke-width="0.12" textLength="32.8" lengthAdjust="spacingAndGlyphs">H =10.0µm</text>
<circle cx="276.6" cy="86.4" r="27.2" fill="#fff" stroke="#8a8a8a" stroke-width="0.6"/>
<text x="277.40" y="68.60" font-size="5.4" font-weight="bold" fill="#222" text-anchor="middle" textLength="21.00" lengthAdjust="spacingAndGlyphs" stroke="#222" stroke-width="0.12" >Top view</text>
<rect x="260.8" y="71.0" width="33.0" height="33.6" fill="#91a9e2"/>
<circle cx="268.4" cy="80.4" r="4.1" fill="#3f55bf"/>
<circle cx="287.2" cy="80.4" r="4.1" fill="#3f55bf"/>
<circle cx="268.4" cy="95.6" r="4.1" fill="#3f55bf"/>
<circle cx="287.2" cy="95.6" r="4.1" fill="#3f55bf"/>
<line x1="264.6" y1="80.4" x2="272.2" y2="80.4" stroke="#d01020" stroke-width="0.7"/>
<polygon points="264.10,80.40 265.90,79.30 265.90,81.50" fill="#d01020" />
<polygon points="272.70,80.40 270.90,79.30 270.90,81.50" fill="#d01020" />
<line x1="265.0" y1="95.6" x2="283.4" y2="95.6" stroke="#d01020" stroke-width="0.6"/>
<polygon points="264.40,95.60 266.40,94.50 266.40,96.70" fill="#d01020" />
<polygon points="284.00,95.60 282.00,94.50 282.00,96.70" fill="#d01020" />
<text x="267.20" y="77.80" font-size="3.0" font-weight="normal" fill="#223" text-anchor="start" >D</text>
<text x="274.60" y="93.80" font-size="3.0" font-weight="normal" fill="#223" text-anchor="start" >P</text>
<path d="M306.6,88.6 C315,92 324.8,89.4 326.3,81.0" fill="none" stroke="#222" stroke-width="0.9"/>
<polygon points="326.80,77.40 324.80,81.60 328.20,81.40" fill="#222" />
<polygon points="329.30,72.60 370.90,72.60 396.40,45.90 395.80,47.10 370.90,73.90 329.30,73.90" fill="#8a8a8a" stroke="#333" stroke-width="0.4" stroke-linejoin="round" />
<polygon points="356.30,45.90 396.40,45.90 370.90,72.60 329.30,72.60" fill="#e2e2e2" stroke="#3a3a3a" stroke-width="0.6" stroke-linejoin="round" />
<path d="M356.5,46.8 L356.5,53.199999999999996 A4.4,1.5 0 0 0 365.29999999999995,53.199999999999996 L365.29999999999995,46.8 Z" fill="#dedede" stroke="#383838" stroke-width="0.6"/>
<ellipse cx="360.9" cy="46.8" rx="4.4" ry="1.5" fill="#ececec" stroke="#383838" stroke-width="0.6"/>
<path d="M366.6,46.8 L366.6,53.199999999999996 A4.4,1.5 0 0 0 375.4,53.199999999999996 L375.4,46.8 Z" fill="#dedede" stroke="#383838" stroke-width="0.6"/>
<ellipse cx="371.0" cy="46.8" rx="4.4" ry="1.5" fill="#ececec" stroke="#383838" stroke-width="0.6"/>
<path d="M377.40000000000003,46.8 L377.40000000000003,53.199999999999996 A4.4,1.5 0 0 0 386.2,53.199999999999996 L386.2,46.8 Z" fill="#dedede" stroke="#383838" stroke-width="0.6"/>
<ellipse cx="381.8" cy="46.8" rx="4.4" ry="1.5" fill="#ececec" stroke="#383838" stroke-width="0.6"/>
<path d="M351.1,53.6 L351.1,60.0 A4.4,1.5 0 0 0 359.9,60.0 L359.9,53.6 Z" fill="#dedede" stroke="#383838" stroke-width="0.6"/>
<ellipse cx="355.5" cy="53.6" rx="4.4" ry="1.5" fill="#ececec" stroke="#383838" stroke-width="0.6"/>
<path d="M361.40000000000003,53.6 L361.40000000000003,60.0 A4.4,1.5 0 0 0 370.2,60.0 L370.2,53.6 Z" fill="#dedede" stroke="#383838" stroke-width="0.6"/>
<ellipse cx="365.8" cy="53.6" rx="4.4" ry="1.5" fill="#ececec" stroke="#383838" stroke-width="0.6"/>
<path d="M372.20000000000005,53.6 L372.20000000000005,60.0 A4.4,1.5 0 0 0 381.0,60.0 L381.0,53.6 Z" fill="#dedede" stroke="#383838" stroke-width="0.6"/>
<ellipse cx="376.6" cy="53.6" rx="4.4" ry="1.5" fill="#ececec" stroke="#383838" stroke-width="0.6"/>
<path d="M340.8,61.8 L340.8,68.2 A4.4,1.5 0 0 0 349.59999999999997,68.2 L349.59999999999997,61.8 Z" fill="#dedede" stroke="#383838" stroke-width="0.6"/>
<ellipse cx="345.2" cy="61.8" rx="4.4" ry="1.5" fill="#ececec" stroke="#383838" stroke-width="0.6"/>
<path d="M351.20000000000005,61.8 L351.20000000000005,68.2 A4.4,1.5 0 0 0 360.0,68.2 L360.0,61.8 Z" fill="#dedede" stroke="#383838" stroke-width="0.6"/>
<ellipse cx="355.6" cy="61.8" rx="4.4" ry="1.5" fill="#ececec" stroke="#383838" stroke-width="0.6"/>
<path d="M362.40000000000003,61.8 L362.40000000000003,68.2 A4.4,1.5 0 0 0 371.2,68.2 L371.2,61.8 Z" fill="#dedede" stroke="#383838" stroke-width="0.6"/>
<ellipse cx="366.8" cy="61.8" rx="4.4" ry="1.5" fill="#ececec" stroke="#383838" stroke-width="0.6"/>
<text x="333.10" y="81.80" font-size="7.1" font-weight="bold" fill="#222" text-anchor="start" textLength="32.20" lengthAdjust="spacingAndGlyphs" stroke="#222" stroke-width="0.16" >MP-PVDF</text>
<path d="M337.0,30.0 C345,20.5 361,22.5 361.6,40.0" fill="none" stroke="#cc3040" stroke-width="0.9"/>
<polygon points="361.70,42.80 360.20,39.40 363.20,39.40" fill="#c8202e" />
<path d="M380.0,31.0 C372.5,31.5 368.6,35.5 368.8,39.6" fill="none" stroke="#8e8ee6" stroke-width="0.7"/>
<polygon points="368.90,41.80 367.70,39.00 370.10,39.00" fill="#6060d8" />
<circle cx="398.3" cy="24.6" r="20.0" fill="#fff" stroke="#cdcdee" stroke-width="0.8"/>
<text x="381.30" y="21.40" font-size="5.3" font-weight="bold" fill="#222" text-anchor="start" textLength="32.80" lengthAdjust="spacingAndGlyphs" stroke="#222" stroke-width="0.12" >Cross section</text>
<path d="M385,37.2 L385,31.2 L387.3,31.2 L387.3,23.2 L391.7,23.2 L391.7,31.2 L396,31.2 L396,23.2 L400.3,23.2 L400.3,31.2 L404.4,31.2 L404.4,23.2 L408.7,23.2 L408.7,31.2 L411,31.2 L411,37.2 Z" fill="#4257c4"/>
<text x="379.60" y="27.60" font-size="3.2" font-weight="normal" fill="#333" text-anchor="start" >H</text>
<line x1="385.4" y1="24.0" x2="385.4" y2="30.6" stroke="#d01020" stroke-width="0.6"/>
<polygon points="385.40,23.20 384.40,25.00 386.40,25.00" fill="#d01020" />
<polygon points="385.40,31.20 384.40,29.40 386.40,29.40" fill="#d01020" />
<text x="569.00" y="12.10" font-size="9.0" font-weight="bold" fill="#2b2b2b" text-anchor="middle" textLength="37.60" lengthAdjust="spacingAndGlyphs" stroke="#2b2b2b" stroke-width="0.20" >Feed-Top</text>
<text x="662.80" y="12.10" font-size="9.0" font-weight="bold" fill="#2b2b2b" text-anchor="middle" textLength="71.40" lengthAdjust="spacingAndGlyphs" stroke="#2b2b2b" stroke-width="0.20" >Permeate-Bottom</text>
<text x="759.00" y="12.10" font-size="9.0" font-weight="bold" fill="#2b2b2b" text-anchor="middle" textLength="56.80" lengthAdjust="spacingAndGlyphs" stroke="#2b2b2b" stroke-width="0.20" >Cross-section</text>
<text x="477.10" y="63.90" font-size="9.7" font-weight="bold" fill="#222" text-anchor="start" textLength="43.00" lengthAdjust="spacingAndGlyphs" stroke="#222" stroke-width="0.21" >MP-PVDF</text>
<text x="480.20" y="145.60" font-size="9.7" font-weight="bold" fill="#222" text-anchor="start" textLength="36.30" lengthAdjust="spacingAndGlyphs" stroke="#222" stroke-width="0.21" >C-PVDF</text>
<polygon points="433.20,81.60 457.00,81.60 457.00,73.20 474.60,90.60 457.00,108.00 457.00,99.60 433.20,99.60" fill="#7196df"/>
<rect x="429.2" y="81.6" width="2.4" height="18.0" fill="#7196df"/>
<rect x="427.0" y="81.6" width="1.0" height="18.0" fill="#9db6ea"/>
<polygon points="647.95,186.00 647.95,196.90 639.50,196.90 656.80,212.90 674.10,196.90 665.65,196.90 665.65,186.00" fill="#7196df"/>
<rect x="647.95" y="180.0" width="17.7" height="2.0" fill="#a9c0ee"/>
<rect x="647.95" y="182.4" width="17.7" height="1.3" fill="#7196df"/>
<rect x="647.95" y="184.2" width="17.7" height="1.2" fill="#b9cbf1"/>
<polygon points="482.80,341.65 444.70,341.65 444.70,333.20 427.40,350.40 444.70,367.60 444.70,359.15 482.80,359.15" fill="#7196df"/>
<rect x="483.9" y="341.65" width="2.1" height="17.5" fill="#7196df"/>
<rect x="487.2" y="341.65" width="1.5" height="17.5" fill="#a4bbec"/>
<rect x="527.0" y="22.9" width="274.0" height="151.9" fill="#a8a8a8"/>
<clipPath id="gridclip"><rect x="527" y="22.9" width="274" height="151.9"/></clipPath>
<g clip-path="url(#gridclip)">
<rect x="527.00" y="22.90" width="91.15" height="75.25" fill="#696969" filter="url(#grainF2)" />
<rect x="561.30" y="22.90" width="56.85" height="46.10" fill="#4c4c4c" filter="url(#grainF3)" />
<circle cx="565.3" cy="28.4" r="3.4" fill="#c2c2c2"/>
<circle cx="565.5999999999999" cy="28.599999999999998" r="1.2" fill="#a2a2a2"/>
<circle cx="580.6" cy="28.4" r="3.4" fill="#c2c2c2"/>
<circle cx="580.9" cy="28.599999999999998" r="1.2" fill="#a2a2a2"/>
<circle cx="596.4" cy="28.4" r="3.4" fill="#c2c2c2"/>
<circle cx="596.6999999999999" cy="28.599999999999998" r="1.2" fill="#a2a2a2"/>
<circle cx="612.1" cy="28.4" r="3.4" fill="#c2c2c2"/>
<circle cx="612.4" cy="28.599999999999998" r="1.2" fill="#a2a2a2"/>
<circle cx="565.3" cy="45.3" r="3.4" fill="#c2c2c2"/>
<circle cx="565.5999999999999" cy="45.5" r="1.2" fill="#a2a2a2"/>
<circle cx="580.6" cy="45.3" r="3.4" fill="#c2c2c2"/>
<circle cx="580.9" cy="45.5" r="1.2" fill="#a2a2a2"/>
<circle cx="596.4" cy="45.3" r="3.4" fill="#c2c2c2"/>
<circle cx="596.6999999999999" cy="45.5" r="1.2" fill="#a2a2a2"/>
<circle cx="612.1" cy="45.3" r="3.4" fill="#c2c2c2"/>
<circle cx="612.4" cy="45.5" r="1.2" fill="#a2a2a2"/>
<circle cx="565.3" cy="62.3" r="3.4" fill="#c2c2c2"/>
<circle cx="565.5999999999999" cy="62.5" r="1.2" fill="#a2a2a2"/>
<circle cx="580.6" cy="62.3" r="3.4" fill="#c2c2c2"/>
<circle cx="580.9" cy="62.5" r="1.2" fill="#a2a2a2"/>
<circle cx="596.4" cy="62.3" r="3.4" fill="#c2c2c2"/>
<circle cx="596.6999999999999" cy="62.5" r="1.2" fill="#a2a2a2"/>
<circle cx="612.1" cy="62.3" r="3.4" fill="#c2c2c2"/>
<circle cx="612.4" cy="62.5" r="1.2" fill="#a2a2a2"/>
<rect x="569.20" y="59.05" width="6.80" height="1.5" fill="#fff"/>
<text x="572.80" y="66.80" font-size="4.6" font-weight="bold" fill="#f4f4f4" text-anchor="middle" textLength="9.50" lengthAdjust="spacingAndGlyphs" >4µm</text>
<rect x="531.60" y="84.65" width="14.50" height="1.5" fill="#fff"/>
<text x="539.00" y="93.30" font-size="5.3" font-weight="bold" fill="#f4f4f4" text-anchor="middle" textLength="18.00" lengthAdjust="spacingAndGlyphs" stroke="#f4f4f4" stroke-width="0.12" >100µm</text>
<rect x="618.85" y="22.90" width="90.50" height="75.25" fill="#494949" filter="url(#grainF2)" />
<rect x="618.85" y="70.00" width="90.50" height="28.15" fill="#515151" filter="url(#grainF2)" />
<rect x="652.00" y="22.90" width="57.35" height="46.10" fill="#424242" filter="url(#grainF3)" />
<rect x="659.00" y="59.25" width="6.80" height="1.5" fill="#fff"/>
<text x="662.60" y="67.00" font-size="4.6" font-weight="bold" fill="#f4f4f4" text-anchor="middle" textLength="9.50" lengthAdjust="spacingAndGlyphs" >4µm</text>
<rect x="624.90" y="83.95" width="22.40" height="1.5" fill="#fff"/>
<text x="637.10" y="93.30" font-size="5.3" font-weight="bold" fill="#f4f4f4" text-anchor="middle" textLength="15.00" lengthAdjust="spacingAndGlyphs" stroke="#f4f4f4" stroke-width="0.12" >50µm</text>
<rect x="710.05" y="22.90" width="90.95" height="75.25" fill="#4a4a4a" filter="url(#grainF2)" />
<rect x="710.05" y="45.00" width="90.95" height="18.00" fill="#626262" filter="url(#grainM)" />
<rect x="710.05" y="60.00" width="90.95" height="25.00" fill="#707070" filter="url(#grainM)" />
<rect x="711.0" y="71.5" width="1.6" height="13.0" fill="#2e2e2e"/>
<rect x="714.1" y="71.9" width="1.4" height="12.6" fill="#2e2e2e"/>
<rect x="716.9" y="71.9" width="1.4" height="12.6" fill="#2e2e2e"/>
<rect x="720.6" y="75.7" width="1.2" height="8.8" fill="#2e2e2e"/>
<rect x="723.0" y="69.2" width="1.5" height="15.3" fill="#2e2e2e"/>
<rect x="726.1" y="67.7" width="1.7" height="16.8" fill="#2e2e2e"/>
<rect x="729.8" y="71.0" width="1.1" height="13.5" fill="#2e2e2e"/>
<rect x="732.3" y="71.7" width="1.0" height="12.8" fill="#2e2e2e"/>
<rect x="735.5" y="74.3" width="1.0" height="10.2" fill="#2e2e2e"/>
<rect x="738.9" y="72.5" width="1.6" height="12.0" fill="#2e2e2e"/>
<rect x="742.1" y="70.7" width="1.3" height="13.8" fill="#2e2e2e"/>
<rect x="745.3" y="72.4" width="1.2" height="12.1" fill="#2e2e2e"/>
<rect x="748.7" y="67.5" width="1.6" height="17.0" fill="#2e2e2e"/>
<rect x="751.6" y="73.7" width="1.2" height="10.8" fill="#2e2e2e"/>
<rect x="754.2" y="75.9" width="1.5" height="8.6" fill="#2e2e2e"/>
<rect x="757.5" y="68.9" width="1.3" height="15.6" fill="#2e2e2e"/>
<rect x="761.1" y="68.9" width="1.0" height="15.6" fill="#2e2e2e"/>
<rect x="763.5" y="68.3" width="1.3" height="16.2" fill="#2e2e2e"/>
<rect x="767.3" y="72.9" width="1.1" height="11.6" fill="#2e2e2e"/>
<rect x="770.1" y="69.5" width="1.2" height="15.0" fill="#2e2e2e"/>
<rect x="772.6" y="73.5" width="1.7" height="11.0" fill="#2e2e2e"/>
<rect x="776.4" y="75.4" width="1.2" height="9.1" fill="#2e2e2e"/>
<rect x="778.9" y="76.0" width="1.6" height="8.5" fill="#2e2e2e"/>
<rect x="782.0" y="71.5" width="1.3" height="13.0" fill="#2e2e2e"/>
<rect x="785.1" y="69.9" width="1.1" height="14.6" fill="#2e2e2e"/>
<rect x="788.7" y="75.5" width="1.3" height="9.0" fill="#2e2e2e"/>
<rect x="791.4" y="74.1" width="1.7" height="10.4" fill="#2e2e2e"/>
<rect x="795.1" y="73.8" width="1.6" height="10.7" fill="#2e2e2e"/>
<rect x="797.6" y="73.0" width="1.6" height="11.5" fill="#2e2e2e"/>
<rect x="801.1" y="75.6" width="1.7" height="8.9" fill="#2e2e2e"/>
<rect x="710.05" y="84.60" width="90.95" height="13.55" fill="#171717" />
<rect x="743.70" y="22.90" width="57.30" height="49.10" fill="#444444" filter="url(#grainM)" />
<path d="M743.7,59 L801,53 L801,72 L743.7,72 Z" fill="#8a8a8a" filter="url(#grainC)"/>
<path d="M743.7,63 L801,58.5 L801,66 L743.7,69.5 Z" fill="#b2b2b2" filter="url(#grainM2)"/>
<path d="M745.2,35.2 Q747.9000000000001,32.6 750.6,35.2 L751.9,60.0 L743.9000000000001,60.0 Z" fill="#969696" filter="url(#grainM)"/>
<circle cx="746.4" cy="41.7" r="0.67" fill="#3a3a3a"/>
<circle cx="747.0" cy="42.6" r="0.43" fill="#3a3a3a"/>
<circle cx="745.7" cy="49.5" r="0.49" fill="#3a3a3a"/>
<circle cx="748.4" cy="44.4" r="0.56" fill="#3a3a3a"/>
<circle cx="750.4" cy="47.1" r="0.60" fill="#3a3a3a"/>
<circle cx="749.9" cy="39.9" r="0.45" fill="#3a3a3a"/>
<circle cx="750.1" cy="55.1" r="0.49" fill="#3a3a3a"/>
<circle cx="746.2" cy="53.2" r="0.73" fill="#3a3a3a"/>
<circle cx="746.3" cy="58.3" r="0.71" fill="#3a3a3a"/>
<circle cx="748.5" cy="45.6" r="0.44" fill="#3a3a3a"/>
<circle cx="745.4" cy="58.6" r="0.48" fill="#3a3a3a"/>
<circle cx="749.0" cy="41.7" r="0.69" fill="#3a3a3a"/>
<circle cx="748.4" cy="42.5" r="0.46" fill="#3a3a3a"/>
<circle cx="749.1" cy="37.2" r="0.48" fill="#3a3a3a"/>
<circle cx="748.2" cy="56.0" r="0.62" fill="#3a3a3a"/>
<circle cx="746.7" cy="57.5" r="0.47" fill="#3a3a3a"/>
<circle cx="745.3" cy="42.0" r="0.56" fill="#3a3a3a"/>
<circle cx="745.5" cy="39.7" r="0.53" fill="#3a3a3a"/>
<circle cx="748.3" cy="38.7" r="0.53" fill="#3a3a3a"/>
<circle cx="750.0" cy="59.0" r="0.63" fill="#3a3a3a"/>
<circle cx="748.9" cy="49.5" r="0.45" fill="#3a3a3a"/>
<circle cx="745.4" cy="35.9" r="0.72" fill="#3a3a3a"/>
<circle cx="749.0" cy="58.6" r="0.41" fill="#3a3a3a"/>
<circle cx="748.6" cy="47.1" r="0.66" fill="#3a3a3a"/>
<circle cx="746.9" cy="59.5" r="0.43" fill="#3a3a3a"/>
<circle cx="748.1" cy="53.2" r="0.72" fill="#3a3a3a"/>
<circle cx="749.2" cy="52.4" r="0.68" fill="#3a3a3a"/>
<circle cx="750.1" cy="43.9" r="0.64" fill="#3a3a3a"/>
<circle cx="750.1" cy="56.4" r="0.55" fill="#3a3a3a"/>
<circle cx="749.5" cy="56.2" r="0.60" fill="#3a3a3a"/>
<circle cx="748.6" cy="44.7" r="0.60" fill="#3a3a3a"/>
<circle cx="748.5" cy="37.4" r="0.62" fill="#3a3a3a"/>
<path d="M762.6,32.0 Q766.9000000000001,29.400000000000002 771.2,32.0 L772.5,58.0 L761.3000000000001,58.0 Z" fill="#969696" filter="url(#grainM)"/>
<circle cx="771.1" cy="54.5" r="0.65" fill="#3a3a3a"/>
<circle cx="765.9" cy="50.8" r="0.60" fill="#3a3a3a"/>
<circle cx="766.4" cy="53.4" r="0.43" fill="#3a3a3a"/>
<circle cx="769.1" cy="33.1" r="0.61" fill="#3a3a3a"/>
<circle cx="766.7" cy="38.1" r="0.64" fill="#3a3a3a"/>
<circle cx="766.9" cy="47.8" r="0.72" fill="#3a3a3a"/>
<circle cx="764.8" cy="32.6" r="0.51" fill="#3a3a3a"/>
<circle cx="768.4" cy="37.4" r="0.46" fill="#3a3a3a"/>
<circle cx="770.4" cy="48.9" r="0.55" fill="#3a3a3a"/>
<circle cx="770.3" cy="40.5" r="0.63" fill="#3a3a3a"/>
<circle cx="764.3" cy="43.2" r="0.68" fill="#3a3a3a"/>
<circle cx="770.5" cy="54.5" r="0.53" fill="#3a3a3a"/>
<circle cx="767.6" cy="40.3" r="0.45" fill="#3a3a3a"/>
<circle cx="766.9" cy="53.4" r="0.70" fill="#3a3a3a"/>
<circle cx="768.7" cy="56.2" r="0.50" fill="#3a3a3a"/>
<circle cx="764.1" cy="43.7" r="0.50" fill="#3a3a3a"/>
<circle cx="764.4" cy="42.7" r="0.62" fill="#3a3a3a"/>
<circle cx="766.8" cy="40.2" r="0.69" fill="#3a3a3a"/>
<circle cx="771.0" cy="43.7" r="0.43" fill="#3a3a3a"/>
<circle cx="762.9" cy="54.3" r="0.41" fill="#3a3a3a"/>
<circle cx="768.7" cy="46.7" r="0.51" fill="#3a3a3a"/>
<circle cx="769.4" cy="32.8" r="0.45" fill="#3a3a3a"/>
<circle cx="766.5" cy="32.9" r="0.69" fill="#3a3a3a"/>
<circle cx="764.6" cy="35.9" r="0.42" fill="#3a3a3a"/>
<circle cx="768.0" cy="43.6" r="0.62" fill="#3a3a3a"/>
<circle cx="768.2" cy="52.6" r="0.74" fill="#3a3a3a"/>
<circle cx="768.5" cy="37.3" r="0.57" fill="#3a3a3a"/>
<circle cx="764.1" cy="32.6" r="0.57" fill="#3a3a3a"/>
<circle cx="768.7" cy="36.8" r="0.50" fill="#3a3a3a"/>
<circle cx="765.6" cy="49.9" r="0.58" fill="#3a3a3a"/>
<circle cx="767.9" cy="51.4" r="0.54" fill="#3a3a3a"/>
<circle cx="769.4" cy="55.1" r="0.43" fill="#3a3a3a"/>
<circle cx="770.6" cy="50.5" r="0.45" fill="#3a3a3a"/>
<circle cx="766.5" cy="48.1" r="0.72" fill="#3a3a3a"/>
<circle cx="765.8" cy="46.6" r="0.71" fill="#3a3a3a"/>
<circle cx="769.5" cy="56.1" r="0.56" fill="#3a3a3a"/>
<circle cx="768.2" cy="37.5" r="0.65" fill="#3a3a3a"/>
<circle cx="769.6" cy="48.5" r="0.65" fill="#3a3a3a"/>
<circle cx="764.4" cy="55.0" r="0.74" fill="#3a3a3a"/>
<circle cx="771.0" cy="45.8" r="0.68" fill="#3a3a3a"/>
<circle cx="765.4" cy="55.2" r="0.70" fill="#3a3a3a"/>
<circle cx="765.6" cy="34.4" r="0.55" fill="#3a3a3a"/>
<circle cx="767.3" cy="51.7" r="0.57" fill="#3a3a3a"/>
<circle cx="762.8" cy="52.7" r="0.42" fill="#3a3a3a"/>
<circle cx="769.5" cy="36.7" r="0.52" fill="#3a3a3a"/>
<circle cx="769.4" cy="35.8" r="0.45" fill="#3a3a3a"/>
<circle cx="767.0" cy="50.5" r="0.69" fill="#3a3a3a"/>
<circle cx="768.5" cy="56.1" r="0.57" fill="#3a3a3a"/>
<path d="M786.0,29.2 Q789.9,26.6 793.8,29.2 L795.0999999999999,55.0 L784.7,55.0 Z" fill="#969696" filter="url(#grainM)"/>
<circle cx="793.4" cy="31.7" r="0.48" fill="#3a3a3a"/>
<circle cx="790.1" cy="36.8" r="0.66" fill="#3a3a3a"/>
<circle cx="791.0" cy="42.6" r="0.70" fill="#3a3a3a"/>
<circle cx="790.4" cy="37.3" r="0.53" fill="#3a3a3a"/>
<circle cx="792.6" cy="52.0" r="0.47" fill="#3a3a3a"/>
<circle cx="792.6" cy="53.7" r="0.58" fill="#3a3a3a"/>
<circle cx="790.5" cy="34.5" r="0.59" fill="#3a3a3a"/>
<circle cx="789.9" cy="44.6" r="0.41" fill="#3a3a3a"/>
<circle cx="793.6" cy="42.4" r="0.54" fill="#3a3a3a"/>
<circle cx="792.2" cy="43.6" r="0.57" fill="#3a3a3a"/>
<circle cx="791.4" cy="31.1" r="0.59" fill="#3a3a3a"/>
<circle cx="789.2" cy="53.4" r="0.72" fill="#3a3a3a"/>
<circle cx="788.1" cy="41.3" r="0.44" fill="#3a3a3a"/>
<circle cx="789.4" cy="49.9" r="0.72" fill="#3a3a3a"/>
<circle cx="789.7" cy="37.4" r="0.47" fill="#3a3a3a"/>
<circle cx="790.8" cy="52.6" r="0.45" fill="#3a3a3a"/>
<circle cx="792.1" cy="30.1" r="0.47" fill="#3a3a3a"/>
<circle cx="787.8" cy="46.7" r="0.51" fill="#3a3a3a"/>
<circle cx="788.8" cy="45.0" r="0.44" fill="#3a3a3a"/>
<circle cx="791.7" cy="32.6" r="0.58" fill="#3a3a3a"/>
<circle cx="788.0" cy="34.4" r="0.59" fill="#3a3a3a"/>
<circle cx="789.4" cy="38.9" r="0.54" fill="#3a3a3a"/>
<circle cx="790.1" cy="33.5" r="0.47" fill="#3a3a3a"/>
<circle cx="790.9" cy="45.5" r="0.59" fill="#3a3a3a"/>
<circle cx="792.6" cy="44.8" r="0.70" fill="#3a3a3a"/>
<circle cx="787.8" cy="48.0" r="0.68" fill="#3a3a3a"/>
<circle cx="793.0" cy="37.4" r="0.51" fill="#3a3a3a"/>
<circle cx="793.2" cy="35.0" r="0.75" fill="#3a3a3a"/>
<circle cx="792.9" cy="32.8" r="0.48" fill="#3a3a3a"/>
<circle cx="791.7" cy="36.0" r="0.43" fill="#3a3a3a"/>
<circle cx="792.5" cy="40.0" r="0.68" fill="#3a3a3a"/>
<circle cx="787.0" cy="39.6" r="0.64" fill="#3a3a3a"/>
<circle cx="786.1" cy="34.5" r="0.64" fill="#3a3a3a"/>
<circle cx="793.1" cy="53.7" r="0.44" fill="#3a3a3a"/>
<circle cx="789.9" cy="48.5" r="0.58" fill="#3a3a3a"/>
<circle cx="791.3" cy="34.2" r="0.42" fill="#3a3a3a"/>
<circle cx="786.8" cy="30.4" r="0.59" fill="#3a3a3a"/>
<circle cx="790.0" cy="43.7" r="0.45" fill="#3a3a3a"/>
<circle cx="787.4" cy="34.6" r="0.69" fill="#3a3a3a"/>
<circle cx="793.7" cy="52.7" r="0.43" fill="#3a3a3a"/>
<circle cx="786.5" cy="53.3" r="0.56" fill="#3a3a3a"/>
<circle cx="792.0" cy="37.7" r="0.56" fill="#3a3a3a"/>
<circle cx="790.0" cy="40.3" r="0.61" fill="#3a3a3a"/>
<circle cx="786.1" cy="47.0" r="0.70" fill="#3a3a3a"/>
<rect x="752.00" y="22.90" width="8.00" height="17.10" fill="#5c5c5c" filter="url(#grainM)" />
<rect x="775.00" y="22.90" width="8.00" height="13.10" fill="#585858" filter="url(#grainM)" />
<rect x="749.20" y="57.30" width="8.20" height="1.4" fill="#fff"/>
<text x="753.60" y="64.60" font-size="4.2" font-weight="bold" fill="#f4f4f4" text-anchor="middle" textLength="8.50" lengthAdjust="spacingAndGlyphs" >4µm</text>
<rect x="717.60" y="83.25" width="22.40" height="1.5" fill="#fff"/>
<text x="728.50" y="94.10" font-size="5.3" font-weight="bold" fill="#f4f4f4" text-anchor="middle" textLength="19.40" lengthAdjust="spacingAndGlyphs" stroke="#f4f4f4" stroke-width="0.12" >150µm</text>
<rect x="527.00" y="98.85" width="91.15" height="75.95" fill="#676767" filter="url(#grainF3)" />
<clipPath id="in21"><rect x="561.3" y="98.85" width="56.85000000000002" height="47.15"/></clipPath>
<g clip-path="url(#in21)">
<rect x="561.30" y="98.85" width="56.85" height="47.15" fill="#787878" filter="url(#grainM)" />
<g filter="url(#blur06)"><path d="M563.7,105.1 q-1.3,2.2 -7.2,-7.8" stroke="#989898" stroke-width="1.4" fill="none"/>
<path d="M575.5,134.1 q-4.2,2.9 3.2,-7.3" stroke="#989898" stroke-width="1.4" fill="none"/>
<path d="M591.9,120.1 q-1.0,6.0 -8.1,-9.6" stroke="#989898" stroke-width="1.4" fill="none"/>
<path d="M613.7,118.1 q-3.6,-2.0 -2.7,9.1" stroke="#989898" stroke-width="1.4" fill="none"/>
<path d="M574.4,109.8 q1.0,0.6 9.1,6.8" stroke="#989898" stroke-width="1.4" fill="none"/>
<path d="M582.2,109.2 q4.0,5.9 -9.4,4.7" stroke="#989898" stroke-width="1.4" fill="none"/>
<path d="M609.9,129.3 q-3.4,3.6 4.6,-6.1" stroke="#989898" stroke-width="1.4" fill="none"/>
<path d="M597.6,109.9 q-5.5,-2.0 -3.3,-2.1" stroke="#989898" stroke-width="1.4" fill="none"/>
<path d="M597.9,137.6 q5.5,5.7 9.9,5.8" stroke="#989898" stroke-width="1.4" fill="none"/>
<path d="M579.5,107.9 q1.5,0.5 3.5,-8.1" stroke="#989898" stroke-width="1.4" fill="none"/>
<ellipse cx="564.5" cy="103.5" rx="2.6" ry="3.0" fill="#3c3c3c" fill-opacity="0.9" transform="rotate(0 564.5 103.5)"/>
<ellipse cx="580.5" cy="105" rx="2.8" ry="2.2" fill="#3c3c3c" fill-opacity="0.9" transform="rotate(30 580.5 105)"/>
<ellipse cx="563.8" cy="117" rx="2.2" ry="2.6" fill="#3c3c3c" fill-opacity="0.9" transform="rotate(0 563.8 117)"/>
<ellipse cx="567.5" cy="121.5" rx="2.6" ry="2.2" fill="#3c3c3c" fill-opacity="0.9" transform="rotate(20 567.5 121.5)"/>
<ellipse cx="577" cy="134" rx="3.2" ry="3.6" fill="#3c3c3c" fill-opacity="0.9" transform="rotate(10 577 134)"/>
<ellipse cx="582.5" cy="140.5" rx="3.0" ry="2.4" fill="#3c3c3c" fill-opacity="0.9" transform="rotate(-20 582.5 140.5)"/>
<ellipse cx="590" cy="107.5" rx="2.4" ry="2.0" fill="#3c3c3c" fill-opacity="0.9" transform="rotate(0 590 107.5)"/>
<ellipse cx="595.5" cy="114" rx="3.0" ry="2.6" fill="#3c3c3c" fill-opacity="0.9" transform="rotate(30 595.5 114)"/>
<ellipse cx="609" cy="106" rx="2.6" ry="3.0" fill="#3c3c3c" fill-opacity="0.9" transform="rotate(10 609 106)"/>
<ellipse cx="612.5" cy="118.5" rx="2.2" ry="2.6" fill="#3c3c3c" fill-opacity="0.9" transform="rotate(0 612.5 118.5)"/>
<ellipse cx="603" cy="127.5" rx="2.4" ry="2.0" fill="#3c3c3c" fill-opacity="0.9" transform="rotate(40 603 127.5)"/>
<ellipse cx="609.5" cy="141" rx="2.6" ry="2.2" fill="#3c3c3c" fill-opacity="0.9" transform="rotate(0 609.5 141)"/>
<ellipse cx="588" cy="122" rx="2.2" ry="1.8" fill="#3c3c3c" fill-opacity="0.9" transform="rotate(-30 588 122)"/>
<ellipse cx="570.5" cy="110.5" rx="2.0" ry="1.8" fill="#3c3c3c" fill-opacity="0.9" transform="rotate(0 570.5 110.5)"/>
<ellipse cx="599.5" cy="137" rx="2.2" ry="2.0" fill="#3c3c3c" fill-opacity="0.9" transform="rotate(0 599.5 137)"/>
<ellipse cx="573" cy="127" rx="2.0" ry="1.6" fill="#3c3c3c" fill-opacity="0.9" transform="rotate(20 573 127)"/>
<ellipse cx="615" cy="131" rx="2.0" ry="2.4" fill="#3c3c3c" fill-opacity="0.9" transform="rotate(0 615 131)"/>
<ellipse cx="601" cy="103" rx="2.2" ry="1.8" fill="#3c3c3c" fill-opacity="0.9" transform="rotate(0 601 103)"/>
</g></g>
<rect x="564.80" y="136.05" width="11.20" height="1.5" fill="#fff"/>
<text x="570.60" y="143.80" font-size="4.6" font-weight="bold" fill="#f4f4f4" text-anchor="middle" textLength="9.50" lengthAdjust="spacingAndGlyphs" >2µm</text>
<rect x="531.10" y="163.45" width="16.20" height="1.5" fill="#fff"/>
<text x="539.20" y="172.30" font-size="5.3" font-weight="bold" fill="#f4f4f4" text-anchor="middle" textLength="15.20" lengthAdjust="spacingAndGlyphs" stroke="#f4f4f4" stroke-width="0.12" >20µm</text>
<rect x="618.85" y="98.85" width="90.50" height="75.95" fill="#6e6e6e" filter="url(#grainH)" />
<clipPath id="in22"><rect x="652.0" y="98.85" width="57.35000000000002" height="47.15"/></clipPath>
<g clip-path="url(#in22)">
<rect x="652.00" y="98.85" width="57.35" height="47.15" fill="#767676" filter="url(#grainM)" />
<g filter="url(#blur06)"><path d="M697.2,114.7 q-3.1,3.9 -9.2,-0.6" stroke="#9a9a9a" stroke-width="1.8" fill="none"/>
<path d="M684.1,127.5 q-4.3,1.6 0.0,8.4" stroke="#9a9a9a" stroke-width="1.8" fill="none"/>
<path d="M655.5,143.1 q-3.9,3.8 0.2,8.1" stroke="#9a9a9a" stroke-width="1.8" fill="none"/>
<path d="M663.9,114.5 q-5.0,3.3 0.8,-7.1" stroke="#9a9a9a" stroke-width="1.8" fill="none"/>
<path d="M664.4,103.6 q-3.6,0.7 -1.5,4.9" stroke="#9a9a9a" stroke-width="1.8" fill="none"/>
<path d="M658.1,137.8 q5.8,2.9 5.8,8.4" stroke="#9a9a9a" stroke-width="1.8" fill="none"/>
<path d="M659.1,120.8 q-5.0,3.4 0.9,-9.4" stroke="#9a9a9a" stroke-width="1.8" fill="none"/>
<path d="M678.0,135.0 q0.6,-4.5 10.5,-10.6" stroke="#9a9a9a" stroke-width="1.8" fill="none"/>
<path d="M699.5,143.8 q3.0,5.4 0.7,-6.7" stroke="#9a9a9a" stroke-width="1.8" fill="none"/>
<ellipse cx="659.8" cy="115.1" rx="3.4" ry="2.6" fill="#3a3a3a" fill-opacity="0.92" transform="rotate(20 659.8 115.1)"/>
<ellipse cx="667" cy="107" rx="2.6" ry="2.0" fill="#3a3a3a" fill-opacity="0.92" transform="rotate(-30 667 107)"/>
<ellipse cx="681.5" cy="110.3" rx="3.6" ry="2.8" fill="#3a3a3a" fill-opacity="0.92" transform="rotate(40 681.5 110.3)"/>
<ellipse cx="701.6" cy="109.5" rx="3.0" ry="4.2" fill="#3a3a3a" fill-opacity="0.92" transform="rotate(10 701.6 109.5)"/>
<ellipse cx="676.7" cy="128.8" rx="3.6" ry="3.0" fill="#3a3a3a" fill-opacity="0.92" transform="rotate(-20 676.7 128.8)"/>
<ellipse cx="684.7" cy="140" rx="3.0" ry="2.4" fill="#3a3a3a" fill-opacity="0.92" transform="rotate(15 684.7 140)"/>
<ellipse cx="697.6" cy="135.2" rx="3.2" ry="2.6" fill="#3a3a3a" fill-opacity="0.92" transform="rotate(60 697.6 135.2)"/>
<ellipse cx="704" cy="143.2" rx="2.8" ry="2.4" fill="#3a3a3a" fill-opacity="0.92" transform="rotate(0 704 143.2)"/>
<ellipse cx="662.2" cy="127.2" rx="2.2" ry="1.8" fill="#3a3a3a" fill-opacity="0.92" transform="rotate(30 662.2 127.2)"/>
<ellipse cx="655.8" cy="104.6" rx="2.4" ry="2.0" fill="#3a3a3a" fill-opacity="0.92" transform="rotate(0 655.8 104.6)"/>
<ellipse cx="690" cy="121" rx="2.6" ry="2.0" fill="#3a3a3a" fill-opacity="0.92" transform="rotate(-40 690 121)"/>
<ellipse cx="671" cy="119" rx="2.0" ry="1.6" fill="#3a3a3a" fill-opacity="0.92" transform="rotate(10 671 119)"/>
<ellipse cx="693" cy="102.5" rx="2.6" ry="1.8" fill="#3a3a3a" fill-opacity="0.92" transform="rotate(0 693 102.5)"/>
<ellipse cx="668" cy="139" rx="2.6" ry="2.0" fill="#3a3a3a" fill-opacity="0.92" transform="rotate(30 668 139)"/>
<ellipse cx="656" cy="138" rx="2.4" ry="2.0" fill="#3a3a3a" fill-opacity="0.92" transform="rotate(-10 656 138)"/>
<ellipse cx="706" cy="125" rx="2.0" ry="2.6" fill="#3a3a3a" fill-opacity="0.92" transform="rotate(0 706 125)"/>
</g></g>
<rect x="657.30" y="135.85" width="13.40" height="1.5" fill="#fff"/>
<text x="664.00" y="143.60" font-size="4.6" font-weight="bold" fill="#f4f4f4" text-anchor="middle" textLength="9.50" lengthAdjust="spacingAndGlyphs" >2µm</text>
<rect x="624.90" y="162.75" width="16.70" height="1.5" fill="#fff"/>
<text x="632.70" y="171.80" font-size="5.3" font-weight="bold" fill="#f4f4f4" text-anchor="middle" textLength="15.20" lengthAdjust="spacingAndGlyphs" stroke="#f4f4f4" stroke-width="0.12" >20µm</text>
<rect x="710.05" y="98.85" width="90.95" height="75.95" fill="#6a6a6a" filter="url(#grainM2)" />
<rect x="710.05" y="98.85" width="33.25" height="21.55" fill="#353535" filter="url(#grainF2)" />
<rect x="710.05" y="158.50" width="90.95" height="16.30" fill="#8e8e8e" filter="url(#grainF2)" />
<rect x="710.05" y="157.80" width="90.95" height="1.00" fill="#a4a4a4" />
<rect x="748.70" y="135.25" width="12.50" height="1.5" fill="#fff"/>
<text x="755.00" y="143.00" font-size="4.6" font-weight="bold" fill="#f4f4f4" text-anchor="middle" textLength="9.50" lengthAdjust="spacingAndGlyphs" >4µm</text>
<rect x="717.60" y="161.45" width="19.10" height="1.5" fill="#fff"/>
<text x="726.80" y="171.80" font-size="5.3" font-weight="bold" fill="#f4f4f4" text-anchor="middle" textLength="15.20" lengthAdjust="spacingAndGlyphs" stroke="#f4f4f4" stroke-width="0.12" >60µm</text>
</g>
<rect x="532.6" y="216.9" width="168.60000000000002" height="274.5" fill="#fff" stroke="#3c3c3c" stroke-width="1.05"/>
<line x1="532.6" y1="353.9" x2="701.2" y2="353.9" stroke="#3c3c3c" stroke-width="1.05"/>
<line x1="532.6" y1="346.80" x2="535.2" y2="346.80" stroke="#3c3c3c" stroke-width="0.7"/>
<text x="529.60" y="349.20" font-size="7.0" font-weight="normal" fill="#1e1e1e" text-anchor="end" stroke="#1e1e1e" stroke-width="0.16">0</text>
<line x1="532.6" y1="330.55" x2="535.2" y2="330.55" stroke="#3c3c3c" stroke-width="0.7"/>
<text x="529.60" y="332.95" font-size="7.0" font-weight="normal" fill="#1e1e1e" text-anchor="end" stroke="#1e1e1e" stroke-width="0.16">3</text>
<line x1="532.6" y1="314.30" x2="535.2" y2="314.30" stroke="#3c3c3c" stroke-width="0.7"/>
<text x="529.60" y="316.70" font-size="7.0" font-weight="normal" fill="#1e1e1e" text-anchor="end" stroke="#1e1e1e" stroke-width="0.16">6</text>
<line x1="532.6" y1="298.05" x2="535.2" y2="298.05" stroke="#3c3c3c" stroke-width="0.7"/>
<text x="529.60" y="300.45" font-size="7.0" font-weight="normal" fill="#1e1e1e" text-anchor="end" stroke="#1e1e1e" stroke-width="0.16">9</text>
<line x1="532.6" y1="281.80" x2="535.2" y2="281.80" stroke="#3c3c3c" stroke-width="0.7"/>
<text x="529.60" y="284.20" font-size="7.0" font-weight="normal" fill="#1e1e1e" text-anchor="end" stroke="#1e1e1e" stroke-width="0.16">12</text>
<line x1="532.6" y1="265.55" x2="535.2" y2="265.55" stroke="#3c3c3c" stroke-width="0.7"/>
<text x="529.60" y="267.94" font-size="7.0" font-weight="normal" fill="#1e1e1e" text-anchor="end" stroke="#1e1e1e" stroke-width="0.16">15</text>
<line x1="532.6" y1="249.29" x2="535.2" y2="249.29" stroke="#3c3c3c" stroke-width="0.7"/>
<text x="529.60" y="251.69" font-size="7.0" font-weight="normal" fill="#1e1e1e" text-anchor="end" stroke="#1e1e1e" stroke-width="0.16">18</text>
<line x1="532.6" y1="233.04" x2="535.2" y2="233.04" stroke="#3c3c3c" stroke-width="0.7"/>
<text x="529.60" y="235.44" font-size="7.0" font-weight="normal" fill="#1e1e1e" text-anchor="end" stroke="#1e1e1e" stroke-width="0.16">21</text>
<line x1="532.6" y1="216.79" x2="535.2" y2="216.79" stroke="#3c3c3c" stroke-width="0.7"/>
<text x="529.60" y="219.19" font-size="7.0" font-weight="normal" fill="#1e1e1e" text-anchor="end" stroke="#1e1e1e" stroke-width="0.16">24</text>
<line x1="532.6" y1="338.67" x2="534.1" y2="338.67" stroke="#3c3c3c" stroke-width="0.6"/>
<line x1="532.6" y1="322.42" x2="534.1" y2="322.42" stroke="#3c3c3c" stroke-width="0.6"/>
<line x1="532.6" y1="306.17" x2="534.1" y2="306.17" stroke="#3c3c3c" stroke-width="0.6"/>
<line x1="532.6" y1="289.92" x2="534.1" y2="289.92" stroke="#3c3c3c" stroke-width="0.6"/>
<line x1="532.6" y1="273.67" x2="534.1" y2="273.67" stroke="#3c3c3c" stroke-width="0.6"/>
<line x1="532.6" y1="257.42" x2="534.1" y2="257.42" stroke="#3c3c3c" stroke-width="0.6"/>
<line x1="532.6" y1="241.17" x2="534.1" y2="241.17" stroke="#3c3c3c" stroke-width="0.6"/>
<line x1="532.6" y1="224.92" x2="534.1" y2="224.92" stroke="#3c3c3c" stroke-width="0.6"/>
<line x1="532.6" y1="483.60" x2="535.2" y2="483.60" stroke="#3c3c3c" stroke-width="0.7"/>
<text x="529.60" y="486.00" font-size="7.0" font-weight="normal" fill="#1e1e1e" text-anchor="end" stroke="#1e1e1e" stroke-width="0.16">0</text>
<line x1="532.6" y1="467.52" x2="535.2" y2="467.52" stroke="#3c3c3c" stroke-width="0.7"/>
<text x="529.60" y="469.92" font-size="7.0" font-weight="normal" fill="#1e1e1e" text-anchor="end" stroke="#1e1e1e" stroke-width="0.16">50</text>
<line x1="532.6" y1="451.43" x2="535.2" y2="451.43" stroke="#3c3c3c" stroke-width="0.7"/>
<text x="529.60" y="453.83" font-size="7.0" font-weight="normal" fill="#1e1e1e" text-anchor="end" stroke="#1e1e1e" stroke-width="0.16">100</text>
<line x1="532.6" y1="435.35" x2="535.2" y2="435.35" stroke="#3c3c3c" stroke-width="0.7"/>
<text x="529.60" y="437.75" font-size="7.0" font-weight="normal" fill="#1e1e1e" text-anchor="end" stroke="#1e1e1e" stroke-width="0.16">150</text>
<line x1="532.6" y1="419.26" x2="535.2" y2="419.26" stroke="#3c3c3c" stroke-width="0.7"/>
<text x="529.60" y="421.66" font-size="7.0" font-weight="normal" fill="#1e1e1e" text-anchor="end" stroke="#1e1e1e" stroke-width="0.16">200</text>
<line x1="532.6" y1="403.18" x2="535.2" y2="403.18" stroke="#3c3c3c" stroke-width="0.7"/>
<text x="529.60" y="405.57" font-size="7.0" font-weight="normal" fill="#1e1e1e" text-anchor="end" stroke="#1e1e1e" stroke-width="0.16">250</text>
<line x1="532.6" y1="387.09" x2="535.2" y2="387.09" stroke="#3c3c3c" stroke-width="0.7"/>
<text x="529.60" y="389.49" font-size="7.0" font-weight="normal" fill="#1e1e1e" text-anchor="end" stroke="#1e1e1e" stroke-width="0.16">300</text>
<line x1="532.6" y1="371.00" x2="535.2" y2="371.00" stroke="#3c3c3c" stroke-width="0.7"/>
<text x="529.60" y="373.40" font-size="7.0" font-weight="normal" fill="#1e1e1e" text-anchor="end" stroke="#1e1e1e" stroke-width="0.16">350</text>
<line x1="532.6" y1="475.56" x2="534.1" y2="475.56" stroke="#3c3c3c" stroke-width="0.6"/>
<line x1="532.6" y1="459.47" x2="534.1" y2="459.47" stroke="#3c3c3c" stroke-width="0.6"/>
<line x1="532.6" y1="443.39" x2="534.1" y2="443.39" stroke="#3c3c3c" stroke-width="0.6"/>
<line x1="532.6" y1="427.30" x2="534.1" y2="427.30" stroke="#3c3c3c" stroke-width="0.6"/>
<line x1="532.6" y1="411.22" x2="534.1" y2="411.22" stroke="#3c3c3c" stroke-width="0.6"/>
<line x1="532.6" y1="395.13" x2="534.1" y2="395.13" stroke="#3c3c3c" stroke-width="0.6"/>
<line x1="532.6" y1="379.05" x2="534.1" y2="379.05" stroke="#3c3c3c" stroke-width="0.6"/>
<line x1="546.60" y1="353.9" x2="546.60" y2="351.29999999999995" stroke="#3c3c3c" stroke-width="0.7"/>
<line x1="546.60" y1="491.4" x2="546.60" y2="488.79999999999995" stroke="#3c3c3c" stroke-width="0.7"/>
<text x="546.60" y="500.30" font-size="7.0" font-weight="normal" fill="#1e1e1e" text-anchor="middle" stroke="#1e1e1e" stroke-width="0.16">1.0</text>
<line x1="583.84" y1="353.9" x2="583.84" y2="351.29999999999995" stroke="#3c3c3c" stroke-width="0.7"/>
<line x1="583.84" y1="491.4" x2="583.84" y2="488.79999999999995" stroke="#3c3c3c" stroke-width="0.7"/>
<text x="583.84" y="500.30" font-size="7.0" font-weight="normal" fill="#1e1e1e" text-anchor="middle" stroke="#1e1e1e" stroke-width="0.16">1.2</text>
<line x1="621.08" y1="353.9" x2="621.08" y2="351.29999999999995" stroke="#3c3c3c" stroke-width="0.7"/>
<line x1="621.08" y1="491.4" x2="621.08" y2="488.79999999999995" stroke="#3c3c3c" stroke-width="0.7"/>
<text x="621.08" y="500.30" font-size="7.0" font-weight="normal" fill="#1e1e1e" text-anchor="middle" stroke="#1e1e1e" stroke-width="0.16">1.4</text>
<line x1="658.32" y1="353.9" x2="658.32" y2="351.29999999999995" stroke="#3c3c3c" stroke-width="0.7"/>
<line x1="658.32" y1="491.4" x2="658.32" y2="488.79999999999995" stroke="#3c3c3c" stroke-width="0.7"/>
<text x="658.32" y="500.30" font-size="7.0" font-weight="normal" fill="#1e1e1e" text-anchor="middle" stroke="#1e1e1e" stroke-width="0.16">1.6</text>
<line x1="695.56" y1="353.9" x2="695.56" y2="351.29999999999995" stroke="#3c3c3c" stroke-width="0.7"/>
<line x1="695.56" y1="491.4" x2="695.56" y2="488.79999999999995" stroke="#3c3c3c" stroke-width="0.7"/>
<text x="695.56" y="500.30" font-size="7.0" font-weight="normal" fill="#1e1e1e" text-anchor="middle" stroke="#1e1e1e" stroke-width="0.16">1.8</text>
<line x1="565.22" y1="353.9" x2="565.22" y2="352.4" stroke="#3c3c3c" stroke-width="0.6"/>
<line x1="565.22" y1="491.4" x2="565.22" y2="489.9" stroke="#3c3c3c" stroke-width="0.6"/>
<line x1="602.46" y1="353.9" x2="602.46" y2="352.4" stroke="#3c3c3c" stroke-width="0.6"/>
<line x1="602.46" y1="491.4" x2="602.46" y2="489.9" stroke="#3c3c3c" stroke-width="0.6"/>
<line x1="639.70" y1="353.9" x2="639.70" y2="352.4" stroke="#3c3c3c" stroke-width="0.6"/>
<line x1="639.70" y1="491.4" x2="639.70" y2="489.9" stroke="#3c3c3c" stroke-width="0.6"/>
<line x1="676.94" y1="353.9" x2="676.94" y2="352.4" stroke="#3c3c3c" stroke-width="0.6"/>
<line x1="676.94" y1="491.4" x2="676.94" y2="489.9" stroke="#3c3c3c" stroke-width="0.6"/>
<text x="617.00" y="514.90" font-size="10.4" font-weight="normal" fill="#1c1c1c" text-anchor="middle" textLength="95.20" lengthAdjust="spacingAndGlyphs" stroke="#1c1c1c" stroke-width="0.2">Concentration Factor</text>
<text transform="translate(510.9,281.0) rotate(-90)" font-size="11.4" fill="#1c1c1c" stroke="#1c1c1c" stroke-width="0.22" text-anchor="middle" textLength="71" lengthAdjust="spacingAndGlyphs">Flux (L/m<tspan font-size="7.2" dy="-3.8" stroke-width="0.12">2</tspan><tspan dy="3.8">h)</tspan></text>
<text transform="translate(510.7,423.5) rotate(-90)" font-size="10.9" fill="#1c1c1c" stroke="#1c1c1c" stroke-width="0.22" text-anchor="middle" textLength="106.4" lengthAdjust="spacingAndGlyphs">Conductivity (µS/cm)</text>
<text x="692.80" y="347.60" font-size="8.8" font-weight="normal" fill="#222" text-anchor="middle" >A</text>
<text x="692.30" y="484.20" font-size="8.8" font-weight="normal" fill="#222" text-anchor="middle" >B</text>
<polyline points="547.40,265.20 552.00,269.80 555.60,271.60 559.00,270.60 563.00,275.00 566.60,273.20 570.40,273.60 574.20,274.40 578.00,275.20 581.80,276.20 585.20,286.40 588.40,332.00 588.40,338.00 588.40,342.60 588.40,346.60" fill="none" stroke="#8cab3c" stroke-width="0.8"/>
<rect x="545.15" y="262.95" width="4.5" height="4.5" fill="#fff" fill-opacity="0.75" stroke="#8cab3c" stroke-width="0.8"/>
<rect x="549.75" y="267.55" width="4.5" height="4.5" fill="#fff" fill-opacity="0.75" stroke="#8cab3c" stroke-width="0.8"/>
<rect x="553.35" y="269.35" width="4.5" height="4.5" fill="#fff" fill-opacity="0.75" stroke="#8cab3c" stroke-width="0.8"/>
<rect x="556.75" y="268.35" width="4.5" height="4.5" fill="#fff" fill-opacity="0.75" stroke="#8cab3c" stroke-width="0.8"/>
<rect x="560.75" y="272.75" width="4.5" height="4.5" fill="#fff" fill-opacity="0.75" stroke="#8cab3c" stroke-width="0.8"/>
<rect x="564.35" y="270.95" width="4.5" height="4.5" fill="#fff" fill-opacity="0.75" stroke="#8cab3c" stroke-width="0.8"/>
<rect x="568.15" y="271.35" width="4.5" height="4.5" fill="#fff" fill-opacity="0.75" stroke="#8cab3c" stroke-width="0.8"/>
<rect x="571.95" y="272.15" width="4.5" height="4.5" fill="#fff" fill-opacity="0.75" stroke="#8cab3c" stroke-width="0.8"/>
<rect x="575.75" y="272.95" width="4.5" height="4.5" fill="#fff" fill-opacity="0.75" stroke="#8cab3c" stroke-width="0.8"/>
<rect x="579.55" y="273.95" width="4.5" height="4.5" fill="#fff" fill-opacity="0.75" stroke="#8cab3c" stroke-width="0.8"/>
<rect x="582.95" y="284.15" width="4.5" height="4.5" fill="#fff" fill-opacity="0.75" stroke="#8cab3c" stroke-width="0.8"/>
<rect x="586.15" y="329.75" width="4.5" height="4.5" fill="#fff" fill-opacity="0.75" stroke="#8cab3c" stroke-width="0.8"/>
<rect x="586.15" y="335.75" width="4.5" height="4.5" fill="#fff" fill-opacity="0.75" stroke="#8cab3c" stroke-width="0.8"/>
<rect x="586.15" y="340.35" width="4.5" height="4.5" fill="#fff" fill-opacity="0.75" stroke="#8cab3c" stroke-width="0.8"/>
<rect x="586.15" y="344.35" width="4.5" height="4.5" fill="#fff" fill-opacity="0.75" stroke="#8cab3c" stroke-width="0.8"/>
<polyline points="546.50,253.20 548.60,253.00 550.00,251.60 553.20,255.20 560.00,263.40 565.80,269.00 570.60,274.60 573.60,277.60 576.60,279.20 579.40,280.40 582.00,281.20 585.20,282.60 588.20,280.80 590.60,281.00 593.40,282.00 596.80,282.60 600.40,283.60 605.80,284.60 612.60,284.00 616.00,284.20 619.60,285.20 626.20,284.60 629.80,284.60 637.80,284.20 644.00,284.00 650.40,284.60 656.60,285.00 660.00,285.60 663.80,284.20 667.00,285.20 672.00,285.80 678.00,286.40 684.60,287.20 690.60,287.60" fill="none" stroke="#4b7ba6" stroke-width="0.8"/>
<rect x="544.25" y="250.95" width="4.5" height="4.5" fill="#fff" fill-opacity="0.75" stroke="#4b7ba6" stroke-width="0.8"/>
<rect x="546.35" y="250.75" width="4.5" height="4.5" fill="#fff" fill-opacity="0.75" stroke="#4b7ba6" stroke-width="0.8"/>
<rect x="547.75" y="249.35" width="4.5" height="4.5" fill="#fff" fill-opacity="0.75" stroke="#4b7ba6" stroke-width="0.8"/>
<rect x="550.95" y="252.95" width="4.5" height="4.5" fill="#fff" fill-opacity="0.75" stroke="#4b7ba6" stroke-width="0.8"/>
<rect x="557.75" y="261.15" width="4.5" height="4.5" fill="#fff" fill-opacity="0.75" stroke="#4b7ba6" stroke-width="0.8"/>
<rect x="563.55" y="266.75" width="4.5" height="4.5" fill="#fff" fill-opacity="0.75" stroke="#4b7ba6" stroke-width="0.8"/>
<rect x="568.35" y="272.35" width="4.5" height="4.5" fill="#fff" fill-opacity="0.75" stroke="#4b7ba6" stroke-width="0.8"/>
<rect x="571.35" y="275.35" width="4.5" height="4.5" fill="#fff" fill-opacity="0.75" stroke="#4b7ba6" stroke-width="0.8"/>
<rect x="574.35" y="276.95" width="4.5" height="4.5" fill="#fff" fill-opacity="0.75" stroke="#4b7ba6" stroke-width="0.8"/>
<rect x="577.15" y="278.15" width="4.5" height="4.5" fill="#fff" fill-opacity="0.75" stroke="#4b7ba6" stroke-width="0.8"/>
<rect x="579.75" y="278.95" width="4.5" height="4.5" fill="#fff" fill-opacity="0.75" stroke="#4b7ba6" stroke-width="0.8"/>
<rect x="582.95" y="280.35" width="4.5" height="4.5" fill="#fff" fill-opacity="0.75" stroke="#4b7ba6" stroke-width="0.8"/>
<rect x="585.95" y="278.55" width="4.5" height="4.5" fill="#fff" fill-opacity="0.75" stroke="#4b7ba6" stroke-width="0.8"/>
<rect x="588.35" y="278.75" width="4.5" height="4.5" fill="#fff" fill-opacity="0.75" stroke="#4b7ba6" stroke-width="0.8"/>
<rect x="591.15" y="279.75" width="4.5" height="4.5" fill="#fff" fill-opacity="0.75" stroke="#4b7ba6" stroke-width="0.8"/>
<rect x="594.55" y="280.35" width="4.5" height="4.5" fill="#fff" fill-opacity="0.75" stroke="#4b7ba6" stroke-width="0.8"/>
<rect x="598.15" y="281.35" width="4.5" height="4.5" fill="#fff" fill-opacity="0.75" stroke="#4b7ba6" stroke-width="0.8"/>
<rect x="603.55" y="282.35" width="4.5" height="4.5" fill="#fff" fill-opacity="0.75" stroke="#4b7ba6" stroke-width="0.8"/>
<rect x="610.35" y="281.75" width="4.5" height="4.5" fill="#fff" fill-opacity="0.75" stroke="#4b7ba6" stroke-width="0.8"/>
<rect x="613.75" y="281.95" width="4.5" height="4.5" fill="#fff" fill-opacity="0.75" stroke="#4b7ba6" stroke-width="0.8"/>
<rect x="617.35" y="282.95" width="4.5" height="4.5" fill="#fff" fill-opacity="0.75" stroke="#4b7ba6" stroke-width="0.8"/>
<rect x="623.95" y="282.35" width="4.5" height="4.5" fill="#fff" fill-opacity="0.75" stroke="#4b7ba6" stroke-width="0.8"/>
<rect x="627.55" y="282.35" width="4.5" height="4.5" fill="#fff" fill-opacity="0.75" stroke="#4b7ba6" stroke-width="0.8"/>
<rect x="635.55" y="281.95" width="4.5" height="4.5" fill="#fff" fill-opacity="0.75" stroke="#4b7ba6" stroke-width="0.8"/>
<rect x="641.75" y="281.75" width="4.5" height="4.5" fill="#fff" fill-opacity="0.75" stroke="#4b7ba6" stroke-width="0.8"/>
<rect x="648.15" y="282.35" width="4.5" height="4.5" fill="#fff" fill-opacity="0.75" stroke="#4b7ba6" stroke-width="0.8"/>
<rect x="654.35" y="282.75" width="4.5" height="4.5" fill="#fff" fill-opacity="0.75" stroke="#4b7ba6" stroke-width="0.8"/>
<rect x="657.75" y="283.35" width="4.5" height="4.5" fill="#fff" fill-opacity="0.75" stroke="#4b7ba6" stroke-width="0.8"/>
<rect x="661.55" y="281.95" width="4.5" height="4.5" fill="#fff" fill-opacity="0.75" stroke="#4b7ba6" stroke-width="0.8"/>
<rect x="664.75" y="282.95" width="4.5" height="4.5" fill="#fff" fill-opacity="0.75" stroke="#4b7ba6" stroke-width="0.8"/>
<rect x="669.75" y="283.55" width="4.5" height="4.5" fill="#fff" fill-opacity="0.75" stroke="#4b7ba6" stroke-width="0.8"/>
<rect x="675.75" y="284.15" width="4.5" height="4.5" fill="#fff" fill-opacity="0.75" stroke="#4b7ba6" stroke-width="0.8"/>
<rect x="682.35" y="284.95" width="4.5" height="4.5" fill="#fff" fill-opacity="0.75" stroke="#4b7ba6" stroke-width="0.8"/>
<rect x="688.35" y="285.35" width="4.5" height="4.5" fill="#fff" fill-opacity="0.75" stroke="#4b7ba6" stroke-width="0.8"/>
<polyline points="546.80,275.00 547.80,276.60 549.20,277.60 550.60,278.00 552.00,278.60 553.40,278.20 554.80,279.20 556.20,279.00 557.60,279.80 559.00,280.40 560.40,280.20 561.80,281.00 563.20,281.40 565.40,282.80 565.80,290.00 566.60,312.00 567.00,328.80 567.20,333.40 567.60,337.60 568.00,341.80" fill="none" stroke="#9c3a8a" stroke-width="0.8"/>
<rect x="544.55" y="272.75" width="4.5" height="4.5" fill="#fff" fill-opacity="0.75" stroke="#9c3a8a" stroke-width="0.8"/>
<rect x="545.55" y="274.35" width="4.5" height="4.5" fill="#fff" fill-opacity="0.75" stroke="#9c3a8a" stroke-width="0.8"/>
<rect x="546.95" y="275.35" width="4.5" height="4.5" fill="#fff" fill-opacity="0.75" stroke="#9c3a8a" stroke-width="0.8"/>
<rect x="548.35" y="275.75" width="4.5" height="4.5" fill="#fff" fill-opacity="0.75" stroke="#9c3a8a" stroke-width="0.8"/>
<rect x="549.75" y="276.35" width="4.5" height="4.5" fill="#fff" fill-opacity="0.75" stroke="#9c3a8a" stroke-width="0.8"/>
<rect x="551.15" y="275.95" width="4.5" height="4.5" fill="#fff" fill-opacity="0.75" stroke="#9c3a8a" stroke-width="0.8"/>
<rect x="552.55" y="276.95" width="4.5" height="4.5" fill="#fff" fill-opacity="0.75" stroke="#9c3a8a" stroke-width="0.8"/>
<rect x="553.95" y="276.75" width="4.5" height="4.5" fill="#fff" fill-opacity="0.75" stroke="#9c3a8a" stroke-width="0.8"/>
<rect x="555.35" y="277.55" width="4.5" height="4.5" fill="#fff" fill-opacity="0.75" stroke="#9c3a8a" stroke-width="0.8"/>
<rect x="556.75" y="278.15" width="4.5" height="4.5" fill="#fff" fill-opacity="0.75" stroke="#9c3a8a" stroke-width="0.8"/>
<rect x="558.15" y="277.95" width="4.5" height="4.5" fill="#fff" fill-opacity="0.75" stroke="#9c3a8a" stroke-width="0.8"/>
<rect x="559.55" y="278.75" width="4.5" height="4.5" fill="#fff" fill-opacity="0.75" stroke="#9c3a8a" stroke-width="0.8"/>
<rect x="560.95" y="279.15" width="4.5" height="4.5" fill="#fff" fill-opacity="0.75" stroke="#9c3a8a" stroke-width="0.8"/>
<rect x="563.15" y="280.55" width="4.5" height="4.5" fill="#fff" fill-opacity="0.75" stroke="#9c3a8a" stroke-width="0.8"/>
<rect x="563.55" y="287.75" width="4.5" height="4.5" fill="#fff" fill-opacity="0.75" stroke="#9c3a8a" stroke-width="0.8"/>
<rect x="564.35" y="309.75" width="4.5" height="4.5" fill="#fff" fill-opacity="0.75" stroke="#9c3a8a" stroke-width="0.8"/>
<rect x="564.75" y="326.55" width="4.5" height="4.5" fill="#fff" fill-opacity="0.75" stroke="#9c3a8a" stroke-width="0.8"/>
<rect x="564.95" y="331.15" width="4.5" height="4.5" fill="#fff" fill-opacity="0.75" stroke="#9c3a8a" stroke-width="0.8"/>
<rect x="565.35" y="335.35" width="4.5" height="4.5" fill="#fff" fill-opacity="0.75" stroke="#9c3a8a" stroke-width="0.8"/>
<rect x="565.75" y="339.55" width="4.5" height="4.5" fill="#fff" fill-opacity="0.75" stroke="#9c3a8a" stroke-width="0.8"/>
<text x="650.4" y="266.8" font-size="6.6" fill="#4b7ba6" textLength="44.6" lengthAdjust="spacingAndGlyphs">CF<tspan font-size="4.4" dy="0.9">4</tspan><tspan dy="-0.9">-MP-PVDF</tspan></text>
<line x1="673.6" y1="269.6" x2="673.6" y2="277.0" stroke="#4b7ba6" stroke-width="0.7"/>
<polygon points="673.60,279.00 672.30,275.60 674.90,275.60" fill="#4b7ba6" />
<text x="539.00" y="306.60" font-size="6.6" font-weight="normal" fill="#9c3a8a" text-anchor="start" textLength="24.60" lengthAdjust="spacingAndGlyphs" >C-PVDF</text>
<line x1="556.0" y1="298.6" x2="558.2" y2="290.8" stroke="#9c3a8a" stroke-width="0.7"/>
<polygon points="558.80,288.60 556.60,291.40 559.20,292.20" fill="#9c3a8a" />
<text x="599.80" y="321.80" font-size="6.6" font-weight="normal" fill="#8cab3c" text-anchor="start" textLength="30.60" lengthAdjust="spacingAndGlyphs" >MP-PVDF</text>
<line x1="598.4" y1="314.4" x2="592.6" y2="309.4" stroke="#8cab3c" stroke-width="0.7"/>
<polygon points="590.80,307.80 594.40,308.80 592.60,310.90" fill="#8cab3c" />
<polygon points="548.20,470.45 551.20,476.00 545.20,476.00" fill="#fff" fill-opacity="0.75" stroke="#8cab3c" stroke-width="0.8"/>
<polygon points="551.67,470.45 554.67,476.00 548.67,476.00" fill="#fff" fill-opacity="0.75" stroke="#8cab3c" stroke-width="0.8"/>
<polygon points="555.14,470.45 558.14,476.00 552.14,476.00" fill="#fff" fill-opacity="0.75" stroke="#8cab3c" stroke-width="0.8"/>
<polygon points="558.61,470.45 561.61,476.00 555.61,476.00" fill="#fff" fill-opacity="0.75" stroke="#8cab3c" stroke-width="0.8"/>
<polygon points="562.08,470.45 565.08,476.00 559.08,476.00" fill="#fff" fill-opacity="0.75" stroke="#8cab3c" stroke-width="0.8"/>
<polygon points="565.55,470.45 568.55,476.00 562.55,476.00" fill="#fff" fill-opacity="0.75" stroke="#8cab3c" stroke-width="0.8"/>
<polygon points="569.02,470.45 572.02,476.00 566.02,476.00" fill="#fff" fill-opacity="0.75" stroke="#8cab3c" stroke-width="0.8"/>
<polygon points="572.49,470.45 575.49,476.00 569.49,476.00" fill="#fff" fill-opacity="0.75" stroke="#8cab3c" stroke-width="0.8"/>
<polygon points="575.96,470.45 578.96,476.00 572.96,476.00" fill="#fff" fill-opacity="0.75" stroke="#8cab3c" stroke-width="0.8"/>
<polygon points="579.43,470.45 582.43,476.00 576.43,476.00" fill="#fff" fill-opacity="0.75" stroke="#8cab3c" stroke-width="0.8"/>
<polygon points="582.90,470.45 585.90,476.00 579.90,476.00" fill="#fff" fill-opacity="0.75" stroke="#8cab3c" stroke-width="0.8"/>
<polygon points="586.37,470.45 589.37,476.00 583.37,476.00" fill="#fff" fill-opacity="0.75" stroke="#8cab3c" stroke-width="0.8"/>
<polygon points="589.84,470.45 592.84,476.00 586.84,476.00" fill="#fff" fill-opacity="0.75" stroke="#8cab3c" stroke-width="0.8"/>
<rect x="554.00" y="478.00" width="4.0" height="4.0" fill="#fff" fill-opacity="0.75" stroke="#9c3a8a" stroke-width="0.8"/>
<rect x="556.70" y="478.00" width="4.0" height="4.0" fill="#fff" fill-opacity="0.75" stroke="#9c3a8a" stroke-width="0.8"/>
<rect x="559.40" y="478.00" width="4.0" height="4.0" fill="#fff" fill-opacity="0.75" stroke="#9c3a8a" stroke-width="0.8"/>
<rect x="562.10" y="478.00" width="4.0" height="4.0" fill="#fff" fill-opacity="0.75" stroke="#9c3a8a" stroke-width="0.8"/>
<rect x="564.80" y="478.00" width="4.0" height="4.0" fill="#fff" fill-opacity="0.75" stroke="#9c3a8a" stroke-width="0.8"/>
<rect x="567.50" y="478.00" width="4.0" height="4.0" fill="#fff" fill-opacity="0.75" stroke="#9c3a8a" stroke-width="0.8"/>
<polyline points="683.80,373.00 679.40,378.70 675.30,384.80 671.30,391.30 668.20,397.30 665.20,403.00 661.80,408.50 654.70,417.00 651.30,422.40 642.90,430.50 637.80,437.20 632.00,443.00 628.00,447.40 623.60,450.40 618.50,453.10 615.10,455.50 611.60,457.00 603.30,459.90 599.20,461.60 594.80,463.30 591.40,464.60 588.00,465.70 584.60,467.20 581.30,468.40 577.80,469.40 574.50,470.40 571.20,471.70 566.60,473.80 562.00,475.80 557.60,477.80 554.20,478.80 550.90,479.50 547.50,481.20" fill="none" stroke="#4b7ba6" stroke-width="0.8"/>
<polygon points="547.50,477.74 550.80,483.84 544.20,483.84" fill="#fff" fill-opacity="0.75" stroke="#4b7ba6" stroke-width="0.8"/>
<polygon points="550.90,476.04 554.20,482.14 547.60,482.14" fill="#fff" fill-opacity="0.75" stroke="#4b7ba6" stroke-width="0.8"/>
<polygon points="554.20,475.34 557.50,481.44 550.90,481.44" fill="#fff" fill-opacity="0.75" stroke="#4b7ba6" stroke-width="0.8"/>
<polygon points="557.60,474.34 560.90,480.44 554.30,480.44" fill="#fff" fill-opacity="0.75" stroke="#4b7ba6" stroke-width="0.8"/>
<polygon points="562.00,472.34 565.30,478.44 558.70,478.44" fill="#fff" fill-opacity="0.75" stroke="#4b7ba6" stroke-width="0.8"/>
<polygon points="566.60,470.34 569.90,476.44 563.30,476.44" fill="#fff" fill-opacity="0.75" stroke="#4b7ba6" stroke-width="0.8"/>
<polygon points="571.20,468.24 574.50,474.34 567.90,474.34" fill="#fff" fill-opacity="0.75" stroke="#4b7ba6" stroke-width="0.8"/>
<polygon points="574.50,466.94 577.80,473.04 571.20,473.04" fill="#fff" fill-opacity="0.75" stroke="#4b7ba6" stroke-width="0.8"/>
<polygon points="577.80,465.94 581.10,472.04 574.50,472.04" fill="#fff" fill-opacity="0.75" stroke="#4b7ba6" stroke-width="0.8"/>
<polygon points="581.30,464.94 584.60,471.04 578.00,471.04" fill="#fff" fill-opacity="0.75" stroke="#4b7ba6" stroke-width="0.8"/>
<polygon points="584.60,463.74 587.90,469.84 581.30,469.84" fill="#fff" fill-opacity="0.75" stroke="#4b7ba6" stroke-width="0.8"/>
<polygon points="588.00,462.24 591.30,468.34 584.70,468.34" fill="#fff" fill-opacity="0.75" stroke="#4b7ba6" stroke-width="0.8"/>
<polygon points="591.40,461.14 594.70,467.24 588.10,467.24" fill="#fff" fill-opacity="0.75" stroke="#4b7ba6" stroke-width="0.8"/>
<polygon points="594.80,459.84 598.10,465.94 591.50,465.94" fill="#fff" fill-opacity="0.75" stroke="#4b7ba6" stroke-width="0.8"/>
<polygon points="599.20,458.14 602.50,464.24 595.90,464.24" fill="#fff" fill-opacity="0.75" stroke="#4b7ba6" stroke-width="0.8"/>
<polygon points="603.30,456.44 606.60,462.54 600.00,462.54" fill="#fff" fill-opacity="0.75" stroke="#4b7ba6" stroke-width="0.8"/>
<polygon points="611.60,453.54 614.90,459.64 608.30,459.64" fill="#fff" fill-opacity="0.75" stroke="#4b7ba6" stroke-width="0.8"/>
<polygon points="615.10,452.04 618.40,458.14 611.80,458.14" fill="#fff" fill-opacity="0.75" stroke="#4b7ba6" stroke-width="0.8"/>
<polygon points="618.50,449.64 621.80,455.74 615.20,455.74" fill="#fff" fill-opacity="0.75" stroke="#4b7ba6" stroke-width="0.8"/>
<polygon points="623.60,446.94 626.90,453.04 620.30,453.04" fill="#fff" fill-opacity="0.75" stroke="#4b7ba6" stroke-width="0.8"/>
<polygon points="628.00,443.94 631.30,450.04 624.70,450.04" fill="#fff" fill-opacity="0.75" stroke="#4b7ba6" stroke-width="0.8"/>
<polygon points="632.00,439.54 635.30,445.64 628.70,445.64" fill="#fff" fill-opacity="0.75" stroke="#4b7ba6" stroke-width="0.8"/>
<polygon points="637.80,433.74 641.10,439.84 634.50,439.84" fill="#fff" fill-opacity="0.75" stroke="#4b7ba6" stroke-width="0.8"/>
<polygon points="642.90,427.04 646.20,433.14 639.60,433.14" fill="#fff" fill-opacity="0.75" stroke="#4b7ba6" stroke-width="0.8"/>
<polygon points="651.30,418.94 654.60,425.04 648.00,425.04" fill="#fff" fill-opacity="0.75" stroke="#4b7ba6" stroke-width="0.8"/>
<polygon points="654.70,413.54 658.00,419.64 651.40,419.64" fill="#fff" fill-opacity="0.75" stroke="#4b7ba6" stroke-width="0.8"/>
<polygon points="661.80,405.04 665.10,411.14 658.50,411.14" fill="#fff" fill-opacity="0.75" stroke="#4b7ba6" stroke-width="0.8"/>
<polygon points="665.20,399.54 668.50,405.64 661.90,405.64" fill="#fff" fill-opacity="0.75" stroke="#4b7ba6" stroke-width="0.8"/>
<polygon points="668.20,393.84 671.50,399.94 664.90,399.94" fill="#fff" fill-opacity="0.75" stroke="#4b7ba6" stroke-width="0.8"/>
<polygon points="671.30,387.84 674.60,393.94 668.00,393.94" fill="#fff" fill-opacity="0.75" stroke="#4b7ba6" stroke-width="0.8"/>
<polygon points="675.30,381.34 678.60,387.44 672.00,387.44" fill="#fff" fill-opacity="0.75" stroke="#4b7ba6" stroke-width="0.8"/>
<polygon points="679.40,375.24 682.70,381.34 676.10,381.34" fill="#fff" fill-opacity="0.75" stroke="#4b7ba6" stroke-width="0.8"/>
<polygon points="683.80,369.54 687.10,375.64 680.50,375.64" fill="#fff" fill-opacity="0.75" stroke="#4b7ba6" stroke-width="0.8"/>
<text x="624.3" y="381.0" font-size="6.6" fill="#4b7ba6" textLength="43.9" lengthAdjust="spacingAndGlyphs">CF<tspan font-size="4.4" dy="0.9">4</tspan><tspan dy="-0.9">-MP-PVDF</tspan></text>
<line x1="658.2" y1="383.8" x2="663.6" y2="388.8" stroke="#4b7ba6" stroke-width="0.7"/>
<polygon points="665.20,390.40 661.60,389.40 663.60,387.20" fill="#4b7ba6" />
<text x="545.80" y="456.20" font-size="6.6" font-weight="normal" fill="#8cab3c" text-anchor="start" textLength="30.40" lengthAdjust="spacingAndGlyphs" >MP-PVDF</text>
<line x1="562.8" y1="458.8" x2="563.4" y2="465.6" stroke="#8cab3c" stroke-width="0.7"/>
<polygon points="563.60,467.60 562.20,464.40 564.80,464.20" fill="#8cab3c" />
<text x="585.70" y="482.60" font-size="6.6" font-weight="normal" fill="#9c3a8a" text-anchor="start" textLength="25.30" lengthAdjust="spacingAndGlyphs" >C-PVDF</text>
<line x1="583.6" y1="480.4" x2="575.4" y2="480.4" stroke="#9c3a8a" stroke-width="0.7"/>
<polygon points="573.20,480.40 576.60,479.10 576.60,481.70" fill="#9c3a8a" />
<text x="145.90" y="221.00" font-size="6.8" font-weight="normal" fill="#444" text-anchor="start" textLength="53.40" lengthAdjust="spacingAndGlyphs" >Before experiment</text>
<text x="249.80" y="222.00" font-size="8.6" font-weight="bold" fill="#1c1c1c" text-anchor="start" textLength="13.60" lengthAdjust="spacingAndGlyphs" stroke="#1c1c1c" stroke-width="0.19" >A-1</text>
<text x="288.50" y="221.00" font-size="6.8" font-weight="normal" fill="#444" text-anchor="start" textLength="49.20" lengthAdjust="spacingAndGlyphs" >After experiment</text>
<text x="395.20" y="223.00" font-size="8.6" font-weight="bold" fill="#1c1c1c" text-anchor="start" textLength="13.90" lengthAdjust="spacingAndGlyphs" stroke="#1c1c1c" stroke-width="0.19" >A-2</text>
<text x="167.80" y="243.00" font-size="3.5" font-weight="bold" fill="#2c2c2c" text-anchor="start" textLength="8.80" lengthAdjust="spacingAndGlyphs" >&gt;90°</text>
<path d="M183.2,238.4 L183.2,248.6 M183.2,245.8 L186.6,245.8" stroke="#222" stroke-width="1.0" fill="none"/><circle cx="184.8" cy="243.8" r="1.3" fill="#222"/>
<text x="199.80" y="243.40" font-size="3.5" font-weight="bold" fill="#2c2c2c" text-anchor="start" textLength="18.60" lengthAdjust="spacingAndGlyphs" >15.8 ± 3.3°</text>
<path d="M220.4,244.6 L231.6,243.6" stroke="#222" stroke-width="1.1"/><circle cx="226.0" cy="241.2" r="1.7" fill="#fff" stroke="#222" stroke-width="1.0"/>
<text x="243.60" y="243.40" font-size="3.5" font-weight="bold" fill="#2c2c2c" text-anchor="start" textLength="16.00" lengthAdjust="spacingAndGlyphs" >3.0 ± 0.8°</text>
<path d="M261.2,244.6 L273.4,244.6" stroke="#222" stroke-width="0.9"/><circle cx="267.0" cy="241.8" r="1.8" fill="#fff" stroke="#222" stroke-width="1.0"/>
<text x="144.60" y="253.00" font-size="3.5" font-weight="bold" fill="#2c2c2c" text-anchor="start" textLength="21.60" lengthAdjust="spacingAndGlyphs" >139.2 ± 3.7°</text>
<text x="190.20" y="253.00" font-size="3.5" font-weight="bold" fill="#2c2c2c" text-anchor="start" textLength="18.40" lengthAdjust="spacingAndGlyphs" >166 ± 2.3°</text>
<text x="231.40" y="253.00" font-size="3.5" font-weight="bold" fill="#2c2c2c" text-anchor="start" textLength="23.60" lengthAdjust="spacingAndGlyphs" >175.57 ± 1.3°</text>
<text x="313.00" y="247.40" font-size="3.5" font-weight="bold" fill="#2c2c2c" text-anchor="start" textLength="8.80" lengthAdjust="spacingAndGlyphs" >&gt;90°</text>
<path d="M326.2,241.2 L326.2,250.8" stroke="#222" stroke-width="0.9"/><path d="M326.6,243.6 L329.4,246.0 L326.6,248.4 Z" fill="#222"/>
<text x="359.40" y="247.40" font-size="3.5" font-weight="bold" fill="#2c2c2c" text-anchor="start" textLength="8.80" lengthAdjust="spacingAndGlyphs" >&gt;90°</text>
<path d="M372.8,241.2 L372.8,250.8" stroke="#222" stroke-width="0.9"/><path d="M373.2,243.6 L376.0,246.0 L373.2,248.4 Z" fill="#222"/>
<text x="385.60" y="247.00" font-size="3.5" font-weight="bold" fill="#2c2c2c" text-anchor="start" textLength="18.60" lengthAdjust="spacingAndGlyphs" >10.5 ± 2.2°</text>
<path d="M405.6,247.2 L417.4,246.4" stroke="#222" stroke-width="1.1"/><circle cx="412.2" cy="244.0" r="1.6" fill="#fff" stroke="#222" stroke-width="1.0"/>
<text x="288.60" y="256.80" font-size="3.5" font-weight="bold" fill="#2c2c2c" text-anchor="start" textLength="18.60" lengthAdjust="spacingAndGlyphs" >98.3 ± 1.1°</text>
<text x="331.20" y="256.60" font-size="3.5" font-weight="bold" fill="#2c2c2c" text-anchor="start" textLength="17.60" lengthAdjust="spacingAndGlyphs" >131 ± 3.1°</text>
<text x="372.00" y="256.60" font-size="3.5" font-weight="bold" fill="#2c2c2c" text-anchor="start" textLength="20.60" lengthAdjust="spacingAndGlyphs" >174.3 ± 1.4°</text>
<rect x="143.0" y="277.8" width="130.5" height="4.9" fill="#1b1b1b"/>
<rect x="189.0" y="277.0" width="41.5" height="1.4" fill="#3a3a3a"/>
<rect x="287.0" y="278.3" width="130.4" height="4.6" fill="#1b1b1b"/>
<rect x="331.6" y="276.4" width="44.0" height="2.4" fill="#2a2a2a"/>
<clipPath id="barclipB"><rect x="140" y="250" width="140" height="28.4"/></clipPath>
<g clip-path="url(#barclipB)"><ellipse cx="164.4" cy="270.4" rx="12.2" ry="11.4" fill="url(#drop)"/></g>
<circle cx="208.9" cy="267.4" r="12.0" fill="url(#drop)"/>
<circle cx="253.5" cy="267.4" r="12.3" fill="url(#drop)"/>
<clipPath id="barclipA"><rect x="285" y="250" width="140" height="28.6"/></clipPath>
<g clip-path="url(#barclipA)"><ellipse cx="308.9" cy="278.0" rx="12.3" ry="14.0" fill="#171717"/><ellipse cx="308.9" cy="275.6" rx="4.2" ry="2.6" fill="#f2f2f2"/><ellipse cx="353.3" cy="271.4" rx="12.6" ry="12.2" fill="#171717"/><path d="M348.2,271.4 L358.6,271.4 A5.2,4.4 0 0 1 348.2,271.4 Z" fill="#f2f2f2"/></g>
<circle cx="397.0" cy="266.6" r="12.3" fill="url(#drop)"/>
<text x="164.00" y="290.30" font-size="4.1" font-weight="bold" fill="#333" text-anchor="middle" textLength="16.60" lengthAdjust="spacingAndGlyphs" font-style="italic" >C-PVDF</text>
<text x="209.60" y="290.30" font-size="4.1" font-weight="bold" fill="#333" text-anchor="middle" textLength="21.80" lengthAdjust="spacingAndGlyphs" font-style="italic" >MP-PVDF</text>
<text x="253.8" y="290.3" font-size="4.1" font-weight="bold" font-style="italic" fill="#333" text-anchor="middle" textLength="31.0" lengthAdjust="spacingAndGlyphs">CF<tspan font-size="2.8" dy="0.8">4</tspan><tspan dy="-0.8">-MP-PVDF</tspan></text>
<text x="307.00" y="290.30" font-size="4.1" font-weight="bold" fill="#333" text-anchor="middle" textLength="16.60" lengthAdjust="spacingAndGlyphs" font-style="italic" >C-PVDF</text>
<text x="354.40" y="290.30" font-size="4.1" font-weight="bold" fill="#333" text-anchor="middle" textLength="21.80" lengthAdjust="spacingAndGlyphs" font-style="italic" >MP-PVDF</text>
<text x="398.3" y="290.3" font-size="4.1" font-weight="bold" font-style="italic" fill="#333" text-anchor="middle" textLength="31.0" lengthAdjust="spacingAndGlyphs">CF<tspan font-size="2.8" dy="0.8">4</tspan><tspan dy="-0.8">-MP-PVDF</tspan></text>
<text x="173.70" y="308.40" font-size="8.6" font-weight="bold" fill="#2b2f6b" text-anchor="start" textLength="31.30" lengthAdjust="spacingAndGlyphs" stroke="#2b2f6b" stroke-width="0.19" >C-PVDF</text>
<text x="262.80" y="308.40" font-size="8.6" font-weight="bold" fill="#2b2f6b" text-anchor="start" textLength="37.90" lengthAdjust="spacingAndGlyphs" stroke="#2b2f6b" stroke-width="0.19" >MP-PVDF</text>
<text x="340.2" y="308.4" font-size="8.6" font-weight="bold" fill="#2b2f6b" textLength="54.8" lengthAdjust="spacingAndGlyphs">CF<tspan font-size="5.8" dy="1.5">4</tspan><tspan dy="-1.5">-MP-PVDF</tspan></text>
<clipPath id="bclip"><rect x="147.0" y="316.1" width="265.4" height="198.29999999999995"/></clipPath>
<g clip-path="url(#bclip)">
<rect x="147.00" y="316.10" width="88.90" height="66.10" fill="#595959" filter="url(#grainF2)" />
<path d="M147,334 L160,323.5 L168.5,334 L165,340 L161.5,344 L159.5,352 L156,359 L153.5,359.5 L152,352 L147,347 Z" fill="#7c7c7c"/>
<path d="M150,335 L160,326.5 L166.4,334.4 L161,341 L156,346 Z" fill="#8c8c8c"/>
<ellipse cx="167" cy="355.6" rx="4" ry="3" fill="#808080"/>
<circle cx="227.7" cy="376.8" r="0.85" fill="#8a8a8a"/>
<circle cx="157.0" cy="354.7" r="0.61" fill="#8a8a8a"/>
<circle cx="194.5" cy="326.1" r="0.50" fill="#8a8a8a"/>
<circle cx="187.3" cy="331.7" r="0.63" fill="#8a8a8a"/>
<circle cx="152.1" cy="323.3" r="0.76" fill="#8a8a8a"/>
<circle cx="185.4" cy="349.8" r="0.77" fill="#8a8a8a"/>
<circle cx="180.2" cy="321.6" r="0.79" fill="#8a8a8a"/>
<circle cx="199.5" cy="358.8" r="0.71" fill="#8a8a8a"/>
<circle cx="231.5" cy="340.5" r="0.78" fill="#8a8a8a"/>
<circle cx="181.0" cy="353.5" r="0.73" fill="#8a8a8a"/>
<circle cx="176.4" cy="323.3" r="0.64" fill="#8a8a8a"/>
<circle cx="210.3" cy="354.6" r="0.62" fill="#8a8a8a"/>
<circle cx="204.0" cy="329.3" r="0.49" fill="#8a8a8a"/>
<circle cx="177.2" cy="368.6" r="0.50" fill="#8a8a8a"/>
<circle cx="159.6" cy="324.1" r="0.42" fill="#8a8a8a"/>
<circle cx="173.1" cy="353.5" r="0.81" fill="#8a8a8a"/>
<circle cx="177.8" cy="340.9" r="0.54" fill="#8a8a8a"/>
<circle cx="175.6" cy="366.2" r="0.67" fill="#8a8a8a"/>
<circle cx="171.7" cy="324.6" r="0.79" fill="#8a8a8a"/>
<circle cx="209.4" cy="369.4" r="0.52" fill="#8a8a8a"/>
<circle cx="195.8" cy="375.0" r="0.70" fill="#8a8a8a"/>
<circle cx="229.4" cy="328.4" r="0.89" fill="#8a8a8a"/>
<circle cx="154.7" cy="343.8" r="0.41" fill="#8a8a8a"/>
<circle cx="218.0" cy="360.6" r="0.89" fill="#8a8a8a"/>
<circle cx="217.6" cy="376.8" r="0.67" fill="#8a8a8a"/>
<circle cx="233.0" cy="364.4" r="0.57" fill="#8a8a8a"/>
<circle cx="231.8" cy="341.4" r="0.50" fill="#8a8a8a"/>
<circle cx="156.4" cy="346.9" r="0.50" fill="#8a8a8a"/>
<circle cx="228.4" cy="376.9" r="0.51" fill="#8a8a8a"/>
<circle cx="158.7" cy="350.8" r="0.48" fill="#8a8a8a"/>
<circle cx="195.7" cy="368.4" r="0.53" fill="#8a8a8a"/>
<circle cx="185.4" cy="373.9" r="0.62" fill="#8a8a8a"/>
<circle cx="178.8" cy="373.3" r="0.81" fill="#8a8a8a"/>
<circle cx="225.2" cy="360.6" r="0.61" fill="#8a8a8a"/>
<circle cx="208.2" cy="369.4" r="0.72" fill="#8a8a8a"/>
<circle cx="170.0" cy="336.3" r="0.60" fill="#8a8a8a"/>
<circle cx="214.8" cy="352.5" r="0.67" fill="#8a8a8a"/>
<circle cx="219.4" cy="324.7" r="0.72" fill="#8a8a8a"/>
<circle cx="177.9" cy="352.7" r="0.82" fill="#8a8a8a"/>
<circle cx="170.9" cy="377.0" r="0.44" fill="#8a8a8a"/>
<rect x="235.90" y="316.10" width="89.20" height="66.10" fill="#4a4a4a" filter="url(#grainM)" />
<rect x="325.10" y="316.10" width="87.30" height="66.10" fill="#525252" filter="url(#grainF2)" />
<circle cx="331.4" cy="317.9" r="2.6" fill="#8e8e8e"/>
<circle cx="343.7" cy="317.9" r="2.6" fill="#8e8e8e"/>
<circle cx="356.0" cy="317.9" r="2.6" fill="#8e8e8e"/>
<circle cx="368.3" cy="317.9" r="2.6" fill="#8e8e8e"/>
<circle cx="380.6" cy="317.9" r="2.6" fill="#8e8e8e"/>
<circle cx="392.9" cy="317.9" r="2.6" fill="#8e8e8e"/>
<circle cx="405.2" cy="317.9" r="2.6" fill="#8e8e8e"/>
<circle cx="331.4" cy="329.7" r="2.6" fill="#8e8e8e"/>
<circle cx="343.7" cy="329.7" r="2.6" fill="#8e8e8e"/>
<circle cx="356.0" cy="329.7" r="2.6" fill="#8e8e8e"/>
<circle cx="368.3" cy="329.7" r="2.6" fill="#8e8e8e"/>
<circle cx="380.6" cy="329.7" r="2.6" fill="#8e8e8e"/>
<circle cx="392.9" cy="329.7" r="2.6" fill="#8e8e8e"/>
<circle cx="405.2" cy="329.7" r="2.6" fill="#8e8e8e"/>
<circle cx="331.4" cy="341.5" r="2.6" fill="#8e8e8e"/>
<circle cx="343.7" cy="341.5" r="2.6" fill="#8e8e8e"/>
<circle cx="356.0" cy="341.5" r="2.6" fill="#8e8e8e"/>
<circle cx="368.3" cy="341.5" r="2.6" fill="#8e8e8e"/>
<circle cx="380.6" cy="341.5" r="2.6" fill="#8e8e8e"/>
<circle cx="392.9" cy="341.5" r="2.6" fill="#8e8e8e"/>
<circle cx="405.2" cy="341.5" r="2.6" fill="#8e8e8e"/>
<circle cx="331.4" cy="353.4" r="2.6" fill="#8e8e8e"/>
<circle cx="343.7" cy="353.4" r="2.6" fill="#8e8e8e"/>
<circle cx="356.0" cy="353.4" r="2.6" fill="#8e8e8e"/>
<circle cx="368.3" cy="353.4" r="2.6" fill="#8e8e8e"/>
<circle cx="380.6" cy="353.4" r="2.6" fill="#8e8e8e"/>
<circle cx="392.9" cy="353.4" r="2.6" fill="#8e8e8e"/>
<circle cx="405.2" cy="353.4" r="2.6" fill="#8e8e8e"/>
<circle cx="331.4" cy="365.2" r="2.6" fill="#8e8e8e"/>
<circle cx="343.7" cy="365.2" r="2.6" fill="#8e8e8e"/>
<circle cx="356.0" cy="365.2" r="2.6" fill="#8e8e8e"/>
<circle cx="368.3" cy="365.2" r="2.6" fill="#8e8e8e"/>
<circle cx="380.6" cy="365.2" r="2.6" fill="#8e8e8e"/>
<circle cx="392.9" cy="365.2" r="2.6" fill="#8e8e8e"/>
<circle cx="405.2" cy="365.2" r="2.6" fill="#8e8e8e"/>
<circle cx="331.4" cy="377.0" r="2.6" fill="#8e8e8e"/>
<circle cx="343.7" cy="377.0" r="2.6" fill="#8e8e8e"/>
<circle cx="356.0" cy="377.0" r="2.6" fill="#8e8e8e"/>
<circle cx="368.3" cy="377.0" r="2.6" fill="#8e8e8e"/>
<circle cx="380.6" cy="377.0" r="2.6" fill="#8e8e8e"/>
<circle cx="392.9" cy="377.0" r="2.6" fill="#8e8e8e"/>
<circle cx="405.2" cy="377.0" r="2.6" fill="#8e8e8e"/>
<rect x="147.00" y="382.20" width="88.90" height="65.70" fill="#5c5c5c" filter="url(#grainM)" />
<path d="M147.0,382.2 L235.9,382.2 L235.9,410 L220,404 L200,398 L175,391 L160,388 L147.0,392 Z" fill="#6a6a6a"/>
<path d="M158,391 C166,386.5 180,389 195,393 C210,396 224,401 233,406 C230,409.5 222,407 212,404 C196,399.6 176,394.6 160,394 Z" fill="#8a8a8a"/>
<path d="M147.0,429.6 L170,434 L200,440.4 L235.9,448 L235.9,447.9 L147.0,447.9 Z" fill="#3e3e3e"/>
<path d="M147.0,432.4 L160,436.4 L185,443 L200,447.9 L147.0,447.9 Z" fill="#a0a0a0"/>
<path d="M147.0,437.4 L165,441.5 L190,447.9 L147.0,447.9 Z" fill="#6e6e6e"/>
<ellipse cx="214" cy="417" rx="5.0" ry="2.0" fill="#8c8c8c"/>
<ellipse cx="186" cy="427" rx="4.0" ry="1.7" fill="#8c8c8c"/>
<ellipse cx="168" cy="406" rx="3.0" ry="1.5" fill="#8c8c8c"/>
<ellipse cx="175" cy="414" rx="2.5" ry="1.5" fill="#8c8c8c"/>
<rect x="235.90" y="382.20" width="89.20" height="65.70" fill="#4f4f4f" filter="url(#grainM)" />
<path d="M235.9,382.2 L325.1,382.2 L325.1,414 L321,408 L309,398 L292,389 L272,384 L255,382.7 Z" fill="#5a5a5a"/>
<path d="M243,388 L255,382.8 L272,384.4 L292,389.6 L309,398.6 L321,409 L325,420 L322,430 L314,434 L304,427 L284,416.6 L262,406 L246,397 Z" fill="#444444"/>
<path d="M246,389 L256,384.4 L272,386 L291,391.2 L307.6,400 L319.6,410 L323,420 L320.4,428 L314,431.6 L305,425.4 L285,414.6 L263,404 L248,396 Z" fill="#676767" filter="url(#grainM)"/>
<ellipse cx="242.0" cy="434.0" rx="1.7" ry="4.8" fill="#262626" transform="rotate(18 242.0 434.0)"/>
<ellipse cx="250.6" cy="434.9" rx="1.7" ry="4.8" fill="#262626" transform="rotate(18 250.6 434.9)"/>
<ellipse cx="259.2" cy="435.8" rx="1.7" ry="4.8" fill="#262626" transform="rotate(18 259.2 435.8)"/>
<ellipse cx="267.8" cy="436.7" rx="1.7" ry="4.8" fill="#262626" transform="rotate(18 267.8 436.7)"/>
<ellipse cx="276.4" cy="437.6" rx="1.7" ry="4.8" fill="#262626" transform="rotate(18 276.4 437.6)"/>
<ellipse cx="285.0" cy="438.5" rx="1.7" ry="4.8" fill="#262626" transform="rotate(18 285.0 438.5)"/>
<ellipse cx="293.6" cy="439.4" rx="1.7" ry="4.8" fill="#262626" transform="rotate(18 293.6 439.4)"/>
<ellipse cx="302.2" cy="440.3" rx="1.7" ry="4.8" fill="#262626" transform="rotate(18 302.2 440.3)"/>
<rect x="325.10" y="382.20" width="87.30" height="65.70" fill="#6d6d6d" filter="url(#grainF2)" />
<path d="M325.1,394.6 L412.4,409 L412.4,441.6 L325.1,428.6 Z" fill="#6b6b6b" filter="url(#grainF2)"/>
<path d="M325.1,394.6 L412.4,409" stroke="#8f8f8f" stroke-width="0.6"/>
<rect x="327.2" y="419.2" width="1.4" height="9.9" rx="0.7" fill="#505050"/>
<rect x="330.8" y="420.4" width="1.6" height="9.2" rx="0.7" fill="#505050"/>
<rect x="334.6" y="425.2" width="1.5" height="5.0" rx="0.7" fill="#505050"/>
<rect x="338.2" y="424.5" width="1.9" height="6.3" rx="0.7" fill="#505050"/>
<rect x="341.1" y="420.1" width="1.3" height="11.1" rx="0.7" fill="#505050"/>
<rect x="345.0" y="423.0" width="1.3" height="8.8" rx="0.7" fill="#505050"/>
<rect x="348.9" y="423.0" width="1.8" height="9.3" rx="0.7" fill="#505050"/>
<rect x="352.3" y="422.9" width="1.6" height="10.0" rx="0.7" fill="#505050"/>
<rect x="355.7" y="420.3" width="1.3" height="13.1" rx="0.7" fill="#505050"/>
<rect x="360.0" y="421.2" width="1.6" height="12.8" rx="0.7" fill="#505050"/>
<rect x="363.4" y="423.5" width="1.7" height="11.1" rx="0.7" fill="#505050"/>
<rect x="366.4" y="427.1" width="1.5" height="7.9" rx="0.7" fill="#505050"/>
<rect x="370.1" y="421.9" width="1.5" height="13.6" rx="0.7" fill="#505050"/>
<rect x="373.8" y="427.3" width="1.9" height="8.8" rx="0.7" fill="#505050"/>
<rect x="377.5" y="426.6" width="1.4" height="10.0" rx="0.7" fill="#505050"/>
<rect x="380.8" y="431.3" width="1.4" height="5.8" rx="0.7" fill="#505050"/>
<rect x="384.4" y="425.0" width="1.6" height="12.7" rx="0.7" fill="#505050"/>
<rect x="387.8" y="429.0" width="1.3" height="9.2" rx="0.7" fill="#505050"/>
<rect x="392.0" y="429.8" width="1.9" height="9.0" rx="0.7" fill="#505050"/>
<rect x="395.2" y="426.6" width="1.4" height="12.7" rx="0.7" fill="#505050"/>
<rect x="399.7" y="429.2" width="1.2" height="10.7" rx="0.7" fill="#505050"/>
<rect x="403.1" y="432.9" width="1.5" height="7.5" rx="0.7" fill="#505050"/>
<rect x="405.9" y="428.3" width="1.3" height="12.5" rx="0.7" fill="#505050"/>
<rect x="410.2" y="432.9" width="1.7" height="8.6" rx="0.7" fill="#505050"/>
<path d="M325.1,428.6 L412.4,441.6 L412.4,447.9 L325.1,447.9 Z" fill="#525252"/>
<path d="M325.1,440.8 L370,446.0 L412.4,446.4 L412.4,447.9 L325.1,447.9 Z" fill="#6a6a6a"/>
<rect x="147.00" y="447.90" width="88.90" height="66.50" fill="#5b5b5b" filter="url(#grainM3)" />
<path d="M226,479 L233,477 L235,483 L229,486 Z" fill="#8a8a8a"/>
<rect x="235.90" y="447.90" width="89.20" height="65.90" fill="#494949" filter="url(#grainF2)" />
<rect x="262.9" y="454.9" width="2.4" height="1.0" fill="#bdbdbd" transform="rotate(-39 262.9 454.9)"/>
<rect x="241.5" y="457.5" width="2.1" height="1.2" fill="#bdbdbd" transform="rotate(-43 241.5 457.5)"/>
<rect x="289.9" y="458.6" width="2.1" height="0.9" fill="#bdbdbd" transform="rotate(30 289.9 458.6)"/>
<rect x="263.1" y="499.3" width="0.9" height="0.6" fill="#bdbdbd" transform="rotate(37 263.1 499.3)"/>
<rect x="288.3" y="470.3" width="1.0" height="0.7" fill="#bdbdbd" transform="rotate(49 288.3 470.3)"/>
<rect x="256.2" y="510.0" width="2.6" height="1.1" fill="#bdbdbd" transform="rotate(-32 256.2 510.0)"/>
<rect x="283.3" y="503.3" width="1.6" height="0.8" fill="#bdbdbd" transform="rotate(23 283.3 503.3)"/>
<rect x="256.7" y="484.8" width="2.1" height="0.9" fill="#bdbdbd" transform="rotate(24 256.7 484.8)"/>
<rect x="321.4" y="510.9" width="1.0" height="0.8" fill="#bdbdbd" transform="rotate(39 321.4 510.9)"/>
<rect x="264.4" y="507.2" width="1.7" height="0.8" fill="#bdbdbd" transform="rotate(-34 264.4 507.2)"/>
<rect x="302.5" y="483.2" width="1.2" height="0.8" fill="#bdbdbd" transform="rotate(-53 302.5 483.2)"/>
<rect x="241.5" y="495.6" width="1.7" height="0.7" fill="#bdbdbd" transform="rotate(59 241.5 495.6)"/>
<rect x="273.2" y="465.2" width="1.4" height="1.0" fill="#bdbdbd" transform="rotate(-3 273.2 465.2)"/>
<rect x="307.6" y="474.7" width="1.5" height="0.9" fill="#bdbdbd" transform="rotate(-58 307.6 474.7)"/>
<rect x="283.6" y="488.6" width="1.6" height="1.0" fill="#bdbdbd" transform="rotate(57 283.6 488.6)"/>
<rect x="275.4" y="461.8" width="2.2" height="1.2" fill="#bdbdbd" transform="rotate(-2 275.4 461.8)"/>
<rect x="309.4" y="474.3" width="1.5" height="0.6" fill="#bdbdbd" transform="rotate(-56 309.4 474.3)"/>
<rect x="273.8" y="471.7" width="2.5" height="1.0" fill="#bdbdbd" transform="rotate(25 273.8 471.7)"/>
<rect x="312.3" y="494.6" width="1.1" height="1.2" fill="#bdbdbd" transform="rotate(36 312.3 494.6)"/>
<rect x="288.0" y="481.9" width="1.8" height="0.7" fill="#bdbdbd" transform="rotate(-52 288.0 481.9)"/>
<rect x="274.0" y="492.6" width="2.6" height="1.1" fill="#bdbdbd" transform="rotate(-45 274.0 492.6)"/>
<rect x="290.8" y="496.5" width="1.9" height="0.9" fill="#bdbdbd" transform="rotate(-35 290.8 496.5)"/>
<rect x="310.4" y="498.5" width="1.4" height="1.0" fill="#bdbdbd" transform="rotate(-5 310.4 498.5)"/>
<rect x="279.9" y="483.8" width="2.2" height="0.8" fill="#bdbdbd" transform="rotate(34 279.9 483.8)"/>
<rect x="239.9" y="499.0" width="1.8" height="1.1" fill="#bdbdbd" transform="rotate(-41 239.9 499.0)"/>
<rect x="243.4" y="498.4" width="1.1" height="1.2" fill="#bdbdbd" transform="rotate(29 243.4 498.4)"/>
<rect x="325.10" y="447.90" width="87.30" height="66.50" fill="#4a4a4a" filter="url(#grainM3)" />
<line x1="161.8" y1="392.6" x2="227.0" y2="408.2" stroke="#fbf81e" stroke-width="1.6"/>
<g transform="translate(222.6,392.0) rotate(143)"><polygon points="-5.8,-1.6 0.7999999999999998,-1.6 0.7999999999999998,-3.6 5.8,0 0.7999999999999998,3.6 0.7999999999999998,1.6 -5.8,1.6" fill="#fbf81e"/></g>
<line x1="239.9" y1="394.7" x2="304.0" y2="426.0" stroke="#fbf81e" stroke-width="1.6"/>
<g transform="translate(247.4,389.0) rotate(55)"><polygon points="-5.8,-1.6 0.7999999999999998,-1.6 0.7999999999999998,-3.6 5.8,0 0.7999999999999998,3.6 0.7999999999999998,1.6 -5.8,1.6" fill="#fbf81e"/></g>
<line x1="336.2" y1="393.6" x2="402.7" y2="403.0" stroke="#fbf81e" stroke-width="1.6"/>
<g transform="translate(405.5,394.1) rotate(132)"><polygon points="-5.8,-1.6 0.7999999999999998,-1.6 0.7999999999999998,-3.6 5.8,0 0.7999999999999998,3.6 0.7999999999999998,1.6 -5.8,1.6" fill="#fbf81e"/></g>
<rect x="212.80" y="364.25" width="16.20" height="1.9" fill="#fff"/>
<text x="221.00" y="374.60" font-size="5.6" font-weight="bold" fill="#f2f2f2" text-anchor="middle" textLength="16.60" lengthAdjust="spacingAndGlyphs" stroke="#f2f2f2" stroke-width="0.12" >60µm</text>
<rect x="300.20" y="364.35" width="19.90" height="1.9" fill="#fff"/>
<text x="310.20" y="374.60" font-size="5.6" font-weight="bold" fill="#f2f2f2" text-anchor="middle" textLength="16.60" lengthAdjust="spacingAndGlyphs" stroke="#f2f2f2" stroke-width="0.12" >60µm</text>
<rect x="381.30" y="364.35" width="26.60" height="1.9" fill="#fff"/>
<text x="394.40" y="374.60" font-size="5.6" font-weight="bold" fill="#f2f2f2" text-anchor="middle" textLength="16.60" lengthAdjust="spacingAndGlyphs" stroke="#f2f2f2" stroke-width="0.12" >25µm</text>
<rect x="204.90" y="430.65" width="26.60" height="1.9" fill="#fff"/>
<text x="218.00" y="440.60" font-size="5.6" font-weight="bold" fill="#f2f2f2" text-anchor="middle" textLength="20.00" lengthAdjust="spacingAndGlyphs" stroke="#f2f2f2" stroke-width="0.12" >100µm</text>
<rect x="298.30" y="429.45" width="20.20" height="1.9" fill="#fff"/>
<text x="308.40" y="440.60" font-size="5.6" font-weight="bold" fill="#f2f2f2" text-anchor="middle" textLength="20.00" lengthAdjust="spacingAndGlyphs" stroke="#f2f2f2" stroke-width="0.12" >100µm</text>
<rect x="381.90" y="429.25" width="23.30" height="1.9" fill="#fff"/>
<text x="393.60" y="440.60" font-size="5.6" font-weight="bold" fill="#f2f2f2" text-anchor="middle" textLength="20.00" lengthAdjust="spacingAndGlyphs" stroke="#f2f2f2" stroke-width="0.12" >150µm</text>
<rect x="207.40" y="498.75" width="26.60" height="1.9" fill="#fff"/>
<text x="218.20" y="508.80" font-size="5.6" font-weight="bold" fill="#f2f2f2" text-anchor="middle" textLength="16.20" lengthAdjust="spacingAndGlyphs" stroke="#f2f2f2" stroke-width="0.12" >15µm</text>
<rect x="294.70" y="498.75" width="27.00" height="1.9" fill="#fff"/>
<text x="308.00" y="508.80" font-size="5.6" font-weight="bold" fill="#f2f2f2" text-anchor="middle" textLength="16.60" lengthAdjust="spacingAndGlyphs" stroke="#f2f2f2" stroke-width="0.12" >25µm</text>
<rect x="381.20" y="498.75" width="27.20" height="1.9" fill="#fff"/>
<text x="395.60" y="508.80" font-size="5.6" font-weight="bold" fill="#f2f2f2" text-anchor="middle" textLength="16.40" lengthAdjust="spacingAndGlyphs" stroke="#f2f2f2" stroke-width="0.12" >10µm</text>
<text x="150.60" y="327.20" font-size="8.2" font-weight="normal" fill="#f4f4f4" text-anchor="start" >B</text>
<text x="149.80" y="377.00" font-size="7.4" font-weight="bold" fill="#f0f0f0" text-anchor="start" textLength="17.20" lengthAdjust="spacingAndGlyphs" stroke="#f0f0f0" stroke-width="0.16" >Feed</text>
<text x="147.90" y="447.00" font-size="7.4" font-weight="bold" fill="#f0f0f0" text-anchor="start" textLength="49.30" lengthAdjust="spacingAndGlyphs" stroke="#f0f0f0" stroke-width="0.16" >Cross section</text>
<text x="149.80" y="510.60" font-size="7.4" font-weight="bold" fill="#f0f0f0" text-anchor="start" textLength="33.10" lengthAdjust="spacingAndGlyphs" stroke="#f0f0f0" stroke-width="0.16" >Permeate</text>
</g>

</g>
</svg>
</body></html>
